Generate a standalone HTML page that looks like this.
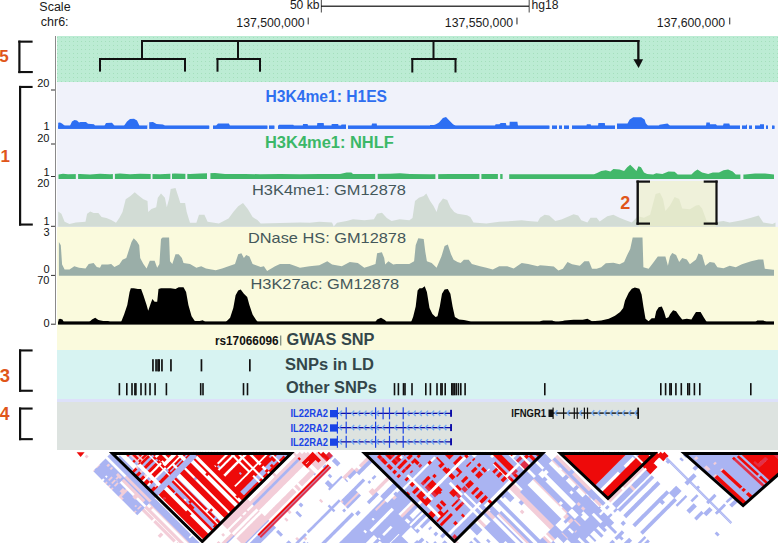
<!DOCTYPE html><html><head><meta charset="utf-8"><style>html,body{margin:0;padding:0;background:#fff;width:778px;height:543px;overflow:hidden}svg{display:block}text{font-family:"Liberation Sans", sans-serif}</style></head><body>
<svg width="778" height="543" viewBox="0 0 778 543">
<defs><pattern id="pg" width="4" height="4" patternUnits="userSpaceOnUse"><rect width="4" height="4" fill="#bcecd4"/><rect x="1" y="1" width="1" height="1" fill="#a4dfbc"/></pattern></defs>
<rect x="57" y="36" width="721" height="46" fill="url(#pg)"/>
<rect x="57" y="82" width="721" height="145" fill="#f0f2fa"/>
<rect x="57" y="227" width="721" height="123" fill="#fafadd"/>
<rect x="57" y="350" width="721" height="49" fill="#d7f3f2"/>
<rect x="57" y="399" width="721" height="3" fill="#dde1fa"/>
<rect x="57" y="402" width="721" height="48" fill="#dde3e0"/>
<rect x="55" y="36" width="1" height="289" fill="#8a8a8a"/>
<rect x="51" y="89.5" width="4" height="1" fill="#333"/>
<rect x="51" y="143.5" width="4" height="1" fill="#333"/>
<rect x="51" y="176.0" width="4" height="1" fill="#333"/>
<rect x="51" y="225.8" width="4" height="1" fill="#333"/>
<rect x="51" y="274.9" width="4" height="1" fill="#333"/>
<rect x="51" y="323.7" width="4" height="1" fill="#333"/>
<path d="M58.2,128.8 L58.2,122.8 L60.0,122.5 L62.0,123.5 L64.8,125.8 L70.0,125.8 L72.0,121.5 L74.5,120.0 L77.0,120.5 L79.0,122.5 L80.5,122.0 L86.0,122.0 L88.0,123.8 L94.0,124.3 L95.0,125.8 L104.5,125.8 L106.0,123.0 L112.0,122.8 L114.5,125.8 L124.0,125.8 L127.0,121.5 L130.0,119.0 L134.0,118.8 L137.0,120.5 L139.5,125.8 L147.0,125.8 L149.0,122.3 L153.0,122.0 L156.5,124.0 L163.0,124.5 L165.0,125.8 L216.0,125.8 L218.0,123.4 L228.9,123.4 L230.0,125.8 L278.7,125.8 L279.0,124.7 L293.2,124.7 L294.0,125.8 L302.8,125.8 L303.0,124.1 L307.6,124.1 L308.0,125.8 L317.0,125.8 L317.3,123.1 L323.7,123.1 L324.0,125.8 L331.5,125.8 L331.7,124.0 L338.2,124.0 L338.5,125.8 L341.0,125.8 L341.5,124.6 L346.0,124.6 L346.5,125.8 L371.5,125.8 L372.0,123.4 L376.7,123.4 L377.0,125.8 L430.0,125.8 L430.0,125.0 L434.0,125.0 L436.0,124.3 L439.0,122.5 L442.9,117.9 L446.0,117.1 L449.3,120.4 L453.0,124.3 L455.7,125.8 L495.0,125.8 L495.6,124.3 L499.4,124.3 L500.7,123.0 L505.8,123.0 L506.5,125.8 L509.5,125.8 L509.7,121.7 L517.4,121.7 L518.0,125.8 L586.5,125.8 L586.8,124.3 L590.7,124.3 L591.0,125.8 L598.0,125.8 L598.4,123.0 L604.8,123.0 L605.2,125.8 L600.0,125.8 L600.0,123.6 L604.6,123.6 L605.0,125.8 L617.0,125.8 L617.0,123.6 L627.5,123.6 L629.7,119.5 L633.2,117.2 L641.2,117.2 L644.6,119.5 L645.8,123.3 L648.0,125.8 L659.0,125.8 L659.5,124.7 L667.5,123.6 L670.0,125.8 L706.0,125.8 L706.4,122.4 L709.8,122.4 L710.0,124.3 L716.0,124.3 L717.0,125.8 L723.0,125.8 L723.6,123.6 L729.3,123.6 L730.0,125.8 L746.0,125.8 L746.5,124.5 L748.7,124.5 L749.0,125.8 L760.0,125.8 L760.0,124.3 L764.8,124.3 L765.0,125.8 L774.4,125.8 L774.4,128.8 Z" fill="#2d6ff3" />
<rect x="58.2" y="125.6" width="89.1" height="3.2" fill="#2d6ff3"/>
<rect x="149.2" y="125.6" width="60.1" height="3.2" fill="#2d6ff3"/>
<rect x="213.0" y="125.6" width="54.5" height="3.2" fill="#2d6ff3"/>
<rect x="269.0" y="125.6" width="5.5" height="3.2" fill="#2d6ff3"/>
<rect x="278.0" y="125.6" width="68.0" height="3.2" fill="#2d6ff3"/>
<rect x="348.0" y="125.6" width="201.5" height="3.2" fill="#2d6ff3"/>
<rect x="552.0" y="125.6" width="5.0" height="3.2" fill="#2d6ff3"/>
<rect x="559.0" y="125.6" width="3.0" height="3.2" fill="#2d6ff3"/>
<rect x="564.0" y="125.6" width="5.0" height="3.2" fill="#2d6ff3"/>
<rect x="572.0" y="125.6" width="43.0" height="3.2" fill="#2d6ff3"/>
<rect x="617.0" y="125.6" width="123.0" height="3.2" fill="#2d6ff3"/>
<rect x="742.0" y="125.6" width="5.0" height="3.2" fill="#2d6ff3"/>
<rect x="749.0" y="125.6" width="3.0" height="3.2" fill="#2d6ff3"/>
<rect x="755.0" y="125.6" width="9.0" height="3.2" fill="#2d6ff3"/>
<rect x="766.0" y="125.6" width="2.0" height="3.2" fill="#2d6ff3"/>
<rect x="772.0" y="125.6" width="2.4" height="3.2" fill="#2d6ff3"/>
<rect x="147.3" y="115" width="1.9" height="14.5" fill="#f0f2fa"/>
<rect x="209.3" y="115" width="3.7" height="14.5" fill="#f0f2fa"/>
<rect x="267.5" y="115" width="1.5" height="14.5" fill="#f0f2fa"/>
<rect x="274.5" y="115" width="3.5" height="14.5" fill="#f0f2fa"/>
<rect x="346.0" y="115" width="2.0" height="14.5" fill="#f0f2fa"/>
<rect x="549.5" y="115" width="2.5" height="14.5" fill="#f0f2fa"/>
<rect x="557.0" y="115" width="2.0" height="14.5" fill="#f0f2fa"/>
<rect x="562.0" y="115" width="2.0" height="14.5" fill="#f0f2fa"/>
<rect x="569.0" y="115" width="3.0" height="14.5" fill="#f0f2fa"/>
<rect x="615.0" y="115" width="2.0" height="14.5" fill="#f0f2fa"/>
<rect x="740.0" y="115" width="2.0" height="14.5" fill="#f0f2fa"/>
<rect x="747.0" y="115" width="2.0" height="14.5" fill="#f0f2fa"/>
<rect x="752.0" y="115" width="3.0" height="14.5" fill="#f0f2fa"/>
<rect x="764.0" y="115" width="2.0" height="14.5" fill="#f0f2fa"/>
<rect x="768.0" y="115" width="4.0" height="14.5" fill="#f0f2fa"/>
<path d="M58.5,178.9 L58.5,174.6 L63.0,173.8 L68.0,174.2 L80.0,174.0 L90.0,174.4 L100.0,173.8 L110.0,174.2 L120.0,173.6 L130.0,174.2 L140.0,173.8 L160.0,174.2 L175.0,173.6 L190.0,174.1 L200.0,173.6 L215.0,173.0 L225.0,174.0 L245.0,174.0 L260.0,174.2 L280.0,174.0 L300.0,174.2 L320.0,174.1 L340.0,174.1 L346.6,172.5 L351.4,172.5 L353.0,174.0 L370.0,174.0 L390.0,173.8 L400.0,173.2 L410.0,174.0 L430.0,174.2 L450.0,174.0 L470.0,174.1 L500.0,174.1 L530.0,174.2 L560.0,174.2 L580.0,174.2 L594.0,174.2 L596.6,173.3 L601.2,170.9 L605.8,170.3 L610.4,171.5 L613.4,169.1 L619.5,169.4 L624.1,170.9 L627.2,167.2 L630.2,164.8 L633.3,167.8 L636.4,170.9 L638.5,166.3 L641.0,167.2 L644.0,172.4 L647.1,174.0 L653.2,174.6 L656.2,173.3 L662.4,174.0 L668.5,171.5 L674.6,171.8 L677.7,174.6 L691.4,174.6 L694.5,171.5 L697.5,169.4 L702.1,172.4 L708.2,174.0 L712.8,172.4 L719.0,172.4 L723.5,170.3 L728.1,169.4 L732.7,171.5 L735.8,174.6 L745.0,174.6 L755.0,173.6 L765.0,173.6 L774.0,174.6 L774.0,178.9 Z" fill="#42b86a" />
<rect x="75.8" y="163" width="2.3" height="16" fill="#f0f2fa"/>
<rect x="112.9" y="163" width="2.0" height="16" fill="#f0f2fa"/>
<rect x="150.7" y="163" width="1.8" height="16" fill="#f0f2fa"/>
<rect x="170.4" y="163" width="1.6" height="16" fill="#f0f2fa"/>
<rect x="185.4" y="163" width="1.9" height="16" fill="#f0f2fa"/>
<rect x="207.0" y="163" width="3.4" height="16" fill="#f0f2fa"/>
<rect x="375.2" y="163" width="2.5" height="16" fill="#f0f2fa"/>
<rect x="435.4" y="163" width="2.8" height="16" fill="#f0f2fa"/>
<rect x="479.4" y="163" width="2.0" height="16" fill="#f0f2fa"/>
<rect x="497.9" y="163" width="2.3" height="16" fill="#f0f2fa"/>
<rect x="502.6" y="163" width="6.6" height="16" fill="#f0f2fa"/>
<rect x="740.4" y="163" width="3.0" height="16" fill="#f0f2fa"/>
<path d="M58.2,226.8 L58.2,211.5 L61.4,213.7 L64.6,221.8 L69.5,224.0 L75.9,222.4 L85.5,221.8 L87.1,213.7 L90.3,211.5 L93.6,213.0 L98.4,213.0 L101.6,217.0 L106.4,218.0 L111.2,220.0 L116.0,222.7 L119.3,218.0 L122.5,212.0 L125.7,199.3 L130.5,196.0 L134.7,192.2 L139.2,196.0 L143.4,199.3 L147.5,200.9 L148.2,212.0 L151.4,209.0 L156.2,207.3 L157.8,197.7 L161.0,193.5 L164.9,197.7 L166.8,207.3 L169.0,199.3 L170.7,189.0 L175.5,188.0 L178.7,197.7 L180.3,203.1 L185.1,203.1 L186.7,212.0 L190.0,222.7 L196.4,222.7 L199.0,214.7 L204.4,214.7 L207.6,221.8 L218.9,223.4 L228.5,218.6 L233.3,212.0 L238.2,206.3 L243.0,203.1 L247.8,209.0 L252.6,217.0 L257.4,220.0 L260.7,223.4 L300.0,222.4 L309.6,222.7 L319.3,221.8 L332.0,222.4 L333.7,226.6 L337.0,222.7 L346.6,221.1 L353.0,219.2 L364.3,220.2 L373.9,219.2 L377.1,213.7 L382.0,212.8 L386.8,217.9 L391.6,221.1 L399.6,219.2 L409.3,220.2 L412.5,217.9 L415.0,200.9 L418.9,197.7 L423.7,196.0 L426.3,193.5 L430.1,200.9 L433.4,205.7 L436.6,212.1 L438.8,204.1 L443.0,198.6 L447.2,199.9 L450.4,207.3 L454.2,212.1 L457.5,213.7 L467.1,215.3 L470.3,217.0 L473.5,222.4 L486.4,223.4 L499.2,221.8 L512.1,221.1 L521.7,220.2 L528.1,221.1 L537.8,221.8 L540.0,217.8 L544.6,214.8 L549.2,215.4 L555.3,220.9 L561.4,219.4 L569.0,216.3 L573.6,214.2 L578.2,215.4 L581.3,220.3 L587.4,222.4 L590.5,217.8 L596.6,217.8 L599.7,221.5 L607.3,216.3 L613.4,214.8 L619.5,217.8 L625.7,220.3 L631.8,222.4 L637.9,216.3 L644.0,217.8 L650.1,214.8 L655.6,194.0 L659.9,192.7 L663.0,198.9 L665.4,211.1 L670.0,205.6 L674.6,197.0 L679.2,198.9 L682.2,208.6 L689.9,209.3 L696.0,205.6 L699.1,205.0 L702.1,208.6 L706.7,220.9 L712.8,222.4 L723.5,220.9 L729.7,222.4 L741.9,220.3 L751.1,217.8 L758.7,215.4 L763.3,222.4 L772.5,224.0 L775.5,222.4 L775.5,226.8 Z" fill="#d2dcd5" />
<rect x="638.5" y="181" width="77.5" height="45.5" fill="#eef0c4" fill-opacity="0.6"/>
<path d="M58.9,275.8 L58.9,242.0 L60.8,245.3 L62.1,264.6 L64.6,269.4 L69.5,269.4 L74.3,266.2 L79.1,267.8 L85.5,268.4 L88.7,263.9 L93.6,263.0 L96.8,267.1 L100.0,267.8 L101.6,264.6 L108.0,264.6 L111.2,263.9 L114.4,267.1 L119.3,264.6 L122.5,259.7 L126.3,258.1 L128.9,250.1 L131.5,242.1 L133.7,238.2 L136.9,241.4 L139.2,245.3 L140.2,258.1 L143.4,263.9 L146.6,268.4 L149.8,260.7 L154.6,260.7 L157.2,267.8 L159.4,263.9 L161.0,238.9 L162.6,237.6 L169.1,237.6 L170.0,261.3 L172.3,263.9 L175.5,254.3 L178.7,254.3 L181.9,258.1 L183.5,263.0 L190.0,263.9 L196.4,267.8 L201.2,266.2 L206.0,268.4 L215.7,270.3 L222.1,268.4 L228.5,266.2 L235.0,263.9 L238.2,254.3 L241.4,253.3 L243.9,258.1 L246.2,254.9 L249.4,256.5 L252.6,263.9 L260.7,267.1 L263.9,266.2 L267.1,271.0 L275.1,266.2 L280.0,263.9 L289.6,263.9 L296.0,266.2 L300.0,267.8 L309.6,266.2 L319.3,265.2 L327.3,261.3 L332.1,264.6 L341.8,266.2 L349.8,262.0 L357.8,263.0 L364.3,267.8 L369.1,266.2 L375.5,263.9 L377.1,253.3 L381.9,252.3 L384.2,258.1 L385.2,264.6 L388.4,261.3 L393.2,264.6 L396.4,263.9 L409.3,263.9 L414.1,261.3 L415.7,245.3 L418.3,238.2 L423.7,238.9 L425.3,251.7 L426.9,261.3 L431.7,263.0 L436.6,267.8 L441.4,256.5 L444.6,245.9 L447.8,244.6 L451.0,254.3 L453.6,259.7 L457.5,262.0 L460.7,263.0 L463.9,259.7 L468.7,259.7 L471.9,263.9 L480.0,266.2 L486.4,267.8 L492.8,269.4 L499.2,266.2 L507.3,266.2 L513.7,268.4 L521.7,263.0 L528.1,263.9 L537.8,266.2 L540.0,265.2 L546.1,265.8 L553.8,266.4 L558.4,270.4 L562.9,268.8 L567.5,262.1 L572.1,264.2 L579.8,265.8 L584.4,261.2 L589.0,261.2 L592.0,268.8 L596.6,268.8 L601.2,267.3 L605.8,263.3 L613.4,262.7 L619.5,264.2 L624.1,262.1 L627.2,255.1 L630.2,248.9 L632.7,237.6 L642.5,237.6 L643.4,267.3 L648.6,268.8 L653.2,262.7 L657.8,256.6 L665.4,256.6 L667.9,265.8 L670.0,256.6 L672.2,252.9 L676.1,255.1 L679.2,262.1 L682.2,258.1 L686.8,259.6 L689.9,264.2 L696.0,259.6 L698.5,253.5 L702.1,255.1 L705.2,265.8 L709.8,262.1 L714.4,262.7 L717.4,267.3 L723.5,268.2 L729.7,265.8 L735.8,267.3 L741.9,264.2 L751.1,261.2 L758.7,259.6 L763.3,259.6 L764.8,268.8 L773.1,269.7 L774.0,269.7 L774.0,275.8 Z" fill="#9aaea8" />
<path d="M58.5,322.0 L58.5,319.5 L60.0,318.8 L62.5,319.5 L64.0,322.6 L88.7,322.6 L92.0,319.4 L95.2,317.8 L98.4,320.0 L103.2,321.0 L108.0,321.0 L111.2,322.6 L120.9,322.6 L124.1,314.6 L127.3,304.9 L129.6,292.1 L130.8,288.2 L133.7,288.2 L137.9,288.9 L141.1,288.9 L143.4,295.3 L146.6,304.9 L148.2,310.7 L150.8,303.3 L152.4,299.1 L154.6,301.7 L157.2,301.7 L158.5,288.9 L161.0,288.2 L170.7,288.2 L175.5,288.9 L178.7,287.2 L183.5,287.2 L186.1,292.1 L188.4,304.9 L191.6,316.2 L194.8,321.0 L199.6,321.0 L202.8,320.3 L206.0,322.6 L225.3,322.6 L230.1,317.8 L233.3,308.1 L235.6,295.3 L238.2,290.5 L240.7,289.5 L243.9,293.7 L247.2,296.9 L249.4,304.9 L252.6,314.6 L255.8,319.4 L258.1,322.6 L375.0,322.6 L377.1,319.4 L381.0,317.8 L385.2,320.3 L386.8,322.6 L410.9,322.6 L413.1,317.1 L415.7,306.5 L417.6,290.5 L419.5,288.2 L422.1,288.2 L424.7,286.3 L426.9,292.1 L429.5,308.1 L432.4,313.9 L435.6,317.1 L437.5,316.2 L439.8,306.5 L442.0,293.7 L444.6,289.5 L447.8,288.9 L450.4,293.7 L452.6,306.5 L454.9,317.1 L459.1,319.4 L463.9,320.0 L468.7,321.0 L471.9,322.6 L539.0,322.6 L541.0,321.0 L543.1,320.4 L552.2,320.4 L556.8,322.5 L564.5,320.4 L573.6,319.7 L582.8,319.7 L587.4,318.8 L592.0,321.3 L601.2,320.4 L608.8,318.8 L615.0,315.8 L620.1,312.1 L623.2,308.1 L625.0,300.5 L628.7,292.8 L631.8,288.8 L634.8,287.6 L639.4,288.8 L641.6,294.4 L643.4,306.6 L645.5,318.8 L648.6,321.3 L651.7,318.2 L654.7,318.2 L656.2,311.2 L658.7,307.2 L661.8,306.6 L663.9,311.2 L666.0,318.2 L668.5,317.3 L670.0,314.2 L673.1,310.3 L676.1,311.2 L679.2,315.8 L682.2,319.4 L686.8,318.8 L691.4,319.4 L694.5,314.2 L696.0,312.1 L700.6,312.1 L703.7,317.3 L706.7,321.9 L755.0,322.6 L757.2,320.4 L763.3,320.4 L766.4,321.9 L774.0,322.6 L774.0,322.0 Z" fill="#000" />
<rect x="58" y="321.4" width="716" height="3.2" fill="#000"/>
<text x="265.5" y="101.9" font-size="16" font-weight="bold" fill="#2f6ff0" textLength="121.5" lengthAdjust="spacingAndGlyphs">H3K4me1: H1ES</text>
<text x="265" y="148.3" font-size="16" font-weight="bold" fill="#3cb868" textLength="128.8" lengthAdjust="spacingAndGlyphs">H3K4me1: NHLF</text>
<text x="252" y="195" font-size="15" fill="#44575a" textLength="154" lengthAdjust="spacingAndGlyphs">H3K4me1: GM12878</text>
<text x="248" y="243" font-size="15" fill="#44575a" textLength="158" lengthAdjust="spacingAndGlyphs">DNase HS: GM12878</text>
<text x="250.4" y="289.4" font-size="15" fill="#44575a" textLength="148.8" lengthAdjust="spacingAndGlyphs">H3K27ac: GM12878</text>
<text x="49.5" y="87.0" font-size="11" fill="#111" text-anchor="end">20</text>
<text x="49.5" y="130.2" font-size="11" fill="#111" text-anchor="end">1</text>
<text x="49.5" y="142.0" font-size="11" fill="#111" text-anchor="end">20</text>
<text x="49.5" y="175.8" font-size="11" fill="#111" text-anchor="end">1</text>
<text x="49.5" y="187.0" font-size="11" fill="#111" text-anchor="end">20</text>
<text x="49.5" y="225.4" font-size="11" fill="#111" text-anchor="end">1</text>
<text x="49.5" y="236.2" font-size="11" fill="#111" text-anchor="end">3</text>
<text x="49.5" y="273.2" font-size="11" fill="#111" text-anchor="end">0</text>
<text x="49.5" y="284.2" font-size="11" fill="#111" text-anchor="end">70</text>
<text x="49.5" y="326.5" font-size="11" fill="#111" text-anchor="end">0</text>
<text x="39.3" y="10.5" font-size="12" fill="#1a1a1a" textLength="31.3" lengthAdjust="spacingAndGlyphs">Scale</text>
<text x="40.8" y="25.5" font-size="12" fill="#1a1a1a" textLength="27.8" lengthAdjust="spacingAndGlyphs">chr6:</text>
<text x="289.9" y="9" font-size="12" fill="#1a1a1a" textLength="29.6" lengthAdjust="spacingAndGlyphs">50 kb</text>
<text x="531.4" y="9" font-size="12" fill="#1a1a1a" textLength="27" lengthAdjust="spacingAndGlyphs">hg18</text>
<text x="236.3" y="26.5" font-size="12" fill="#1a1a1a" textLength="68.3" lengthAdjust="spacingAndGlyphs">137,500,000</text>
<text x="444.8" y="26.5" font-size="12" fill="#1a1a1a" textLength="68.3" lengthAdjust="spacingAndGlyphs">137,550,000</text>
<text x="656.8" y="26.5" font-size="12" fill="#1a1a1a" textLength="68.3" lengthAdjust="spacingAndGlyphs">137,600,000</text>
<rect x="307.6" y="17.6" width="1.3" height="6.8" fill="#555"/>
<rect x="516.3" y="17.6" width="1.3" height="6.8" fill="#555"/>
<rect x="729.0" y="17.6" width="1.3" height="6.8" fill="#555"/>
<rect x="320.8" y="0" width="1.2" height="12.5" fill="#666"/>
<rect x="528.6" y="0" width="1.2" height="12.5" fill="#666"/>
<rect x="321" y="5.6" width="208" height="1.2" fill="#111"/>
<rect x="141.0" y="40.0" width="498.5" height="2.0" fill="#111"/>
<rect x="141.0" y="40.0" width="2.0" height="19.0" fill="#111"/>
<rect x="99.0" y="58.0" width="87.0" height="2.0" fill="#111"/>
<rect x="99.0" y="58.0" width="2.0" height="13.6" fill="#111"/>
<rect x="184.0" y="58.0" width="2.0" height="13.6" fill="#111"/>
<rect x="237.0" y="40.0" width="2.0" height="19.0" fill="#111"/>
<rect x="216.5" y="58.0" width="44.5" height="2.0" fill="#111"/>
<rect x="216.5" y="58.0" width="2.0" height="13.7" fill="#111"/>
<rect x="259.0" y="58.0" width="2.0" height="13.7" fill="#111"/>
<rect x="432.5" y="40.0" width="2.0" height="19.0" fill="#111"/>
<rect x="411.3" y="58.0" width="45.2" height="2.0" fill="#111"/>
<rect x="411.3" y="58.0" width="2.0" height="14.5" fill="#111"/>
<rect x="454.5" y="58.0" width="2.0" height="14.5" fill="#111"/>
<rect x="637.2" y="40.0" width="2.3" height="20.0" fill="#111"/>
<path d="M633.4,59.2 L643.1,59.2 L638.6,68 Z" fill="#111"/>
<rect x="18.3" y="40.6" width="2.2" height="32.5" fill="#111"/>
<rect x="18.3" y="40.6" width="14.3" height="2.1" fill="#111"/>
<rect x="18.3" y="71.0" width="14.5" height="2.1" fill="#111"/>
<rect x="19.0" y="85.9" width="2.2" height="139.7" fill="#111"/>
<rect x="19.0" y="85.9" width="13.6" height="2.1" fill="#111"/>
<rect x="19.0" y="223.5" width="13.8" height="2.1" fill="#111"/>
<rect x="19.0" y="349.4" width="2.2" height="42.4" fill="#111"/>
<rect x="19.0" y="349.4" width="13.6" height="2.1" fill="#111"/>
<rect x="19.0" y="389.7" width="13.8" height="2.1" fill="#111"/>
<rect x="19.0" y="407.5" width="2.2" height="32.7" fill="#111"/>
<rect x="19.0" y="407.5" width="13.6" height="2.1" fill="#111"/>
<rect x="19.0" y="438.1" width="13.8" height="2.1" fill="#111"/>
<text x="-0.8" y="61.5" font-size="17" font-weight="bold" fill="#e0561a">5</text>
<text x="0.5" y="162.4" font-size="17" font-weight="bold" fill="#e0561a">1</text>
<text x="-0.2" y="382.4" font-size="18.5" font-weight="bold" fill="#e0561a">3</text>
<text x="-0.2" y="420.3" font-size="17.5" font-weight="bold" fill="#e0561a">4</text>
<text x="620.2" y="208.8" font-size="18" font-weight="bold" fill="#e0561a">2</text>
<rect x="636.5" y="180.5" width="2.4" height="44.2" fill="#111"/>
<rect x="636.5" y="180.5" width="13.5" height="2.2" fill="#111"/>
<rect x="636.5" y="222.5" width="13.5" height="2.2" fill="#111"/>
<rect x="715.4" y="180.5" width="2.2" height="44.2" fill="#111"/>
<rect x="703.7" y="180.5" width="13.9" height="2.2" fill="#111"/>
<rect x="703.7" y="222.5" width="13.9" height="2.2" fill="#111"/>
<text x="214.9" y="344.5" font-size="12" font-weight="bold" fill="#111" textLength="63.7" lengthAdjust="spacingAndGlyphs">rs17066096</text>
<rect x="280.2" y="335.5" width="1.1" height="10.0" fill="#6a7a70"/>
<text x="286.5" y="345" font-size="16" font-weight="bold" fill="#33464a" textLength="88" lengthAdjust="spacingAndGlyphs">GWAS SNP</text>
<text x="285" y="370" font-size="16" font-weight="bold" fill="#33464a" textLength="89" lengthAdjust="spacingAndGlyphs">SNPs in LD</text>
<text x="285.9" y="392.6" font-size="16" font-weight="bold" fill="#33464a" textLength="91" lengthAdjust="spacingAndGlyphs">Other SNPs</text>
<rect x="152.1" y="359.2" width="1.7" height="12.2" fill="#111"/>
<rect x="155.2" y="359.2" width="1.7" height="12.2" fill="#111"/>
<rect x="157.2" y="359.2" width="1.7" height="12.2" fill="#111"/>
<rect x="158.3" y="359.2" width="1.7" height="12.2" fill="#111"/>
<rect x="161.1" y="359.2" width="1.7" height="12.2" fill="#111"/>
<rect x="170.1" y="359.2" width="1.7" height="12.2" fill="#111"/>
<rect x="200.6" y="359.2" width="1.7" height="12.2" fill="#111"/>
<rect x="249.0" y="359.2" width="1.7" height="12.2" fill="#111"/>
<rect x="118.6" y="383.1" width="1.6" height="12.2" fill="#111"/>
<rect x="126.0" y="383.1" width="1.6" height="12.2" fill="#111"/>
<rect x="131.2" y="383.1" width="1.6" height="12.2" fill="#111"/>
<rect x="134.1" y="383.1" width="1.6" height="12.2" fill="#111"/>
<rect x="135.1" y="383.1" width="1.6" height="12.2" fill="#111"/>
<rect x="140.2" y="383.1" width="1.6" height="12.2" fill="#111"/>
<rect x="144.7" y="383.1" width="1.6" height="12.2" fill="#111"/>
<rect x="149.2" y="383.1" width="1.6" height="12.2" fill="#111"/>
<rect x="154.3" y="383.1" width="1.6" height="12.2" fill="#111"/>
<rect x="165.6" y="383.1" width="1.6" height="12.2" fill="#111"/>
<rect x="199.9" y="383.1" width="1.6" height="12.2" fill="#111"/>
<rect x="202.2" y="383.1" width="1.6" height="12.2" fill="#111"/>
<rect x="242.7" y="383.1" width="1.6" height="12.2" fill="#111"/>
<rect x="246.7" y="383.1" width="1.6" height="12.2" fill="#111"/>
<rect x="393.7" y="383.1" width="1.6" height="12.2" fill="#111"/>
<rect x="397.6" y="383.1" width="1.6" height="12.2" fill="#111"/>
<rect x="402.7" y="383.1" width="1.6" height="12.2" fill="#111"/>
<rect x="404.2" y="383.1" width="1.6" height="12.2" fill="#111"/>
<rect x="411.2" y="383.1" width="1.6" height="12.2" fill="#111"/>
<rect x="425.0" y="383.1" width="1.6" height="12.2" fill="#111"/>
<rect x="429.6" y="383.1" width="1.6" height="12.2" fill="#111"/>
<rect x="436.2" y="383.1" width="1.6" height="12.2" fill="#111"/>
<rect x="440.1" y="383.1" width="1.6" height="12.2" fill="#111"/>
<rect x="441.3" y="383.1" width="1.6" height="12.2" fill="#111"/>
<rect x="444.4" y="383.1" width="1.6" height="12.2" fill="#111"/>
<rect x="451.0" y="383.1" width="1.6" height="12.2" fill="#111"/>
<rect x="452.2" y="383.1" width="1.6" height="12.2" fill="#111"/>
<rect x="453.6" y="383.1" width="1.6" height="12.2" fill="#111"/>
<rect x="455.4" y="383.1" width="1.6" height="12.2" fill="#111"/>
<rect x="457.6" y="383.1" width="1.6" height="12.2" fill="#111"/>
<rect x="460.0" y="383.1" width="1.6" height="12.2" fill="#111"/>
<rect x="464.3" y="383.1" width="1.6" height="12.2" fill="#111"/>
<rect x="544.0" y="383.1" width="1.6" height="12.2" fill="#111"/>
<rect x="660.0" y="383.1" width="1.6" height="12.2" fill="#111"/>
<rect x="664.8" y="383.1" width="1.6" height="12.2" fill="#111"/>
<rect x="669.1" y="383.1" width="1.6" height="12.2" fill="#111"/>
<rect x="670.4" y="383.1" width="1.6" height="12.2" fill="#111"/>
<rect x="675.1" y="383.1" width="1.6" height="12.2" fill="#111"/>
<rect x="680.5" y="383.1" width="1.6" height="12.2" fill="#111"/>
<rect x="687.0" y="383.1" width="1.6" height="12.2" fill="#111"/>
<rect x="688.6" y="383.1" width="1.6" height="12.2" fill="#111"/>
<rect x="693.6" y="383.1" width="1.6" height="12.2" fill="#111"/>
<rect x="699.0" y="383.1" width="1.6" height="12.2" fill="#111"/>
<rect x="750.0" y="383.1" width="1.6" height="12.2" fill="#111"/>
<text x="290.5" y="417.2" font-size="10" font-weight="bold" fill="#1a44e6" textLength="37.5" lengthAdjust="spacingAndGlyphs">IL22RA2</text>
<rect x="337.0" y="412.7" width="114.0" height="1.3" fill="#0c0ca8"/>
<path d="M341.9,410.6l-2.4,2.7l2.4,2.7M354.2,410.6l-2.4,2.7l2.4,2.7M360.3,410.6l-2.4,2.7l2.4,2.7M366.5,410.6l-2.4,2.7l2.4,2.7M372.6,410.6l-2.4,2.7l2.4,2.7M378.8,410.6l-2.4,2.7l2.4,2.7M397.2,410.6l-2.4,2.7l2.4,2.7M409.5,410.6l-2.4,2.7l2.4,2.7M415.7,410.6l-2.4,2.7l2.4,2.7M421.8,410.6l-2.4,2.7l2.4,2.7M428.0,410.6l-2.4,2.7l2.4,2.7M434.1,410.6l-2.4,2.7l2.4,2.7M440.3,410.6l-2.4,2.7l2.4,2.7M446.4,410.6l-2.4,2.7l2.4,2.7" fill="none" stroke="#74aaf2" stroke-width="1.4"/>
<rect x="330.0" y="410.0" width="7.3" height="7.3" fill="#1a44e6"/>
<rect x="336.8" y="407.3" width="1.2" height="12.0" fill="#1a44e6"/>
<rect x="345.6" y="407.3" width="1.2" height="12.0" fill="#1a44e6"/>
<rect x="375.0" y="407.3" width="1.2" height="12.0" fill="#1a44e6"/>
<rect x="388.9" y="407.3" width="1.2" height="12.0" fill="#1a44e6"/>
<rect x="402.6" y="407.3" width="1.2" height="12.0" fill="#1a44e6"/>
<rect x="382.5" y="407.3" width="1.2" height="12.0" fill="#1a44e6"/>
<rect x="450.1" y="409.8" width="1.9" height="7.0" fill="#0c0ca8"/>
<text x="290.5" y="431.5" font-size="10" font-weight="bold" fill="#1a44e6" textLength="37.5" lengthAdjust="spacingAndGlyphs">IL22RA2</text>
<rect x="337.0" y="427.0" width="114.0" height="1.3" fill="#0c0ca8"/>
<path d="M341.9,424.9l-2.4,2.7l2.4,2.7M354.2,424.9l-2.4,2.7l2.4,2.7M360.3,424.9l-2.4,2.7l2.4,2.7M366.5,424.9l-2.4,2.7l2.4,2.7M372.6,424.9l-2.4,2.7l2.4,2.7M378.8,424.9l-2.4,2.7l2.4,2.7M384.9,424.9l-2.4,2.7l2.4,2.7M397.2,424.9l-2.4,2.7l2.4,2.7M409.5,424.9l-2.4,2.7l2.4,2.7M415.7,424.9l-2.4,2.7l2.4,2.7M421.8,424.9l-2.4,2.7l2.4,2.7M428.0,424.9l-2.4,2.7l2.4,2.7M434.1,424.9l-2.4,2.7l2.4,2.7M440.3,424.9l-2.4,2.7l2.4,2.7M446.4,424.9l-2.4,2.7l2.4,2.7" fill="none" stroke="#74aaf2" stroke-width="1.4"/>
<rect x="330.0" y="424.3" width="7.3" height="7.3" fill="#1a44e6"/>
<rect x="336.8" y="421.6" width="1.2" height="12.0" fill="#1a44e6"/>
<rect x="345.6" y="421.6" width="1.2" height="12.0" fill="#1a44e6"/>
<rect x="375.0" y="421.6" width="1.2" height="12.0" fill="#1a44e6"/>
<rect x="388.9" y="421.6" width="1.2" height="12.0" fill="#1a44e6"/>
<rect x="402.6" y="421.6" width="1.2" height="12.0" fill="#1a44e6"/>
<rect x="450.1" y="424.1" width="1.9" height="7.0" fill="#0c0ca8"/>
<text x="290.5" y="445.7" font-size="10" font-weight="bold" fill="#1a44e6" textLength="37.5" lengthAdjust="spacingAndGlyphs">IL22RA2</text>
<rect x="337.0" y="441.2" width="114.0" height="1.3" fill="#0c0ca8"/>
<path d="M341.9,439.1l-2.4,2.7l2.4,2.7M354.2,439.1l-2.4,2.7l2.4,2.7M360.3,439.1l-2.4,2.7l2.4,2.7M366.5,439.1l-2.4,2.7l2.4,2.7M372.6,439.1l-2.4,2.7l2.4,2.7M378.8,439.1l-2.4,2.7l2.4,2.7M384.9,439.1l-2.4,2.7l2.4,2.7M397.2,439.1l-2.4,2.7l2.4,2.7M409.5,439.1l-2.4,2.7l2.4,2.7M415.7,439.1l-2.4,2.7l2.4,2.7M421.8,439.1l-2.4,2.7l2.4,2.7M428.0,439.1l-2.4,2.7l2.4,2.7M434.1,439.1l-2.4,2.7l2.4,2.7M440.3,439.1l-2.4,2.7l2.4,2.7M446.4,439.1l-2.4,2.7l2.4,2.7" fill="none" stroke="#74aaf2" stroke-width="1.4"/>
<rect x="330.0" y="438.5" width="7.3" height="7.3" fill="#1a44e6"/>
<rect x="336.8" y="435.8" width="1.2" height="12.0" fill="#1a44e6"/>
<rect x="345.6" y="435.8" width="1.2" height="12.0" fill="#1a44e6"/>
<rect x="375.0" y="435.8" width="1.2" height="12.0" fill="#1a44e6"/>
<rect x="388.9" y="435.8" width="1.2" height="12.0" fill="#1a44e6"/>
<rect x="402.6" y="435.8" width="1.2" height="12.0" fill="#1a44e6"/>
<rect x="450.1" y="438.3" width="1.9" height="7.0" fill="#0c0ca8"/>
<text x="511.3" y="417.1" font-size="10" font-weight="bold" fill="#111" textLength="34.7" lengthAdjust="spacingAndGlyphs">IFNGR1</text>
<rect x="553.0" y="412.4" width="85.0" height="1.4" fill="#111"/>
<path d="M557.4,410.3l-2.4,2.7l2.4,2.7M569.7,410.3l-2.4,2.7l2.4,2.7M582.0,410.3l-2.4,2.7l2.4,2.7M594.3,410.3l-2.4,2.7l2.4,2.7M600.4,410.3l-2.4,2.7l2.4,2.7M606.6,410.3l-2.4,2.7l2.4,2.7M612.7,410.3l-2.4,2.7l2.4,2.7M618.9,410.3l-2.4,2.7l2.4,2.7M625.0,410.3l-2.4,2.7l2.4,2.7M631.2,410.3l-2.4,2.7l2.4,2.7M637.3,410.3l-2.4,2.7l2.4,2.7" fill="none" stroke="#74aaf2" stroke-width="1.4"/>
<rect x="548.5" y="409.5" width="4.5" height="7.5" fill="#111"/>
<rect x="552.5" y="407.6" width="1.2" height="11.3" fill="#111"/>
<rect x="563.0" y="407.6" width="1.2" height="11.3" fill="#111"/>
<rect x="573.7" y="407.6" width="1.2" height="11.3" fill="#111"/>
<rect x="576.6" y="407.6" width="1.2" height="11.3" fill="#111"/>
<rect x="583.8" y="407.6" width="1.2" height="11.3" fill="#111"/>
<rect x="586.9" y="407.6" width="1.2" height="11.3" fill="#111"/>
<rect x="637.3" y="407.6" width="1.7" height="11.3" fill="#111"/>
<g transform="matrix(0.5,-0.5,0.5,0.5,0,452)"><path fill="#f3cdd8" d="M74.0 112.0h3.5v1.7h-3.5zM74.0 135.4h3.5v3.5h-3.5zM74.0 141.6h3.5v3.5h-3.5zM74.0 147.1h3.5v3.4h-3.5zM74.0 162.4h3.5v8.4h-3.5zM74.0 193.4h3.5v3.2h-3.5zM74.0 241.4h3.5v4.8h-3.5zM77.0 162.4h3.5v4.6h-3.5zM77.0 241.4h3.5v4.8h-3.5zM80.0 112.0h3.5v1.7h-3.5zM80.0 135.4h3.5v3.5h-3.5zM80.0 141.6h3.5v3.5h-3.5zM80.0 147.1h3.5v3.4h-3.5zM80.0 158.4h3.5v8.5h-3.5zM80.0 188.2h3.5v3.2h-3.5zM80.0 193.4h3.5v3.2h-3.5zM83.0 112.0h4.5v1.7h-4.5zM83.0 135.4h4.5v3.5h-4.5zM83.0 141.6h4.5v3.5h-4.5zM83.0 147.1h4.5v3.4h-4.5zM83.0 158.4h4.5v8.5h-4.5zM83.0 193.4h4.5v3.2h-4.5zM83.0 200.0h4.5v20.6h-4.5zM83.0 223.6h4.5v40.6h-4.5zM83.0 267.6h4.5v6.2h-4.5zM87.0 144.6h2.0v3.0h-2.0zM87.0 150.0h2.0v1.6h-2.0zM87.0 162.4h2.0v4.6h-2.0zM87.0 176.8h2.0v6.4h-2.0zM88.5 141.6h4.5v3.5h-4.5zM88.5 176.8h4.5v6.4h-4.5zM88.5 200.0h4.5v80.0h-4.5zM92.6 119.5h4.9v4.1h-4.9zM92.6 126.0h4.9v3.6h-4.9zM92.6 138.4h4.9v9.2h-4.9zM92.6 150.0h4.9v43.9h-4.9zM92.6 205.5h4.9v3.6h-4.9zM97.0 200.0h2.0v87.7h-2.0zM98.5 150.0h4.9v50.5h-4.9zM112.0 291.0h1.7v3.1h-1.7zM113.2 291.0h3.2v3.1h-3.2zM115.8 291.0h4.1v3.1h-4.1zM119.5 151.1h4.1v3.8h-4.1zM119.5 158.4h4.1v4.5h-4.1zM119.5 166.4h4.1v4.3h-4.1zM119.5 176.8h4.1v3.2h-4.1zM119.5 188.2h4.1v3.2h-4.1zM119.5 193.4h4.1v3.2h-4.1zM119.5 291.0h4.1v3.1h-4.1zM123.1 291.0h3.4v3.1h-3.4zM126.0 129.1h3.6v21.4h-3.6zM126.0 291.0h3.6v3.1h-3.6zM126.0 307.5h3.6v10.0h-3.6zM129.1 132.3h3.8v3.6h-3.8zM129.1 144.6h3.8v3.0h-3.8zM129.1 291.0h3.8v3.1h-3.8zM129.1 312.4h3.8v5.1h-3.8zM132.3 135.4h3.6v15.1h-3.6zM132.3 291.0h3.6v3.1h-3.6zM132.3 312.4h3.6v5.1h-3.6zM135.4 144.6h3.5v3.0h-3.5zM135.4 291.0h3.5v3.1h-3.5zM135.4 312.4h3.5v5.1h-3.5zM138.4 144.6h3.8v3.0h-3.8zM138.4 291.0h3.8v3.1h-3.8zM138.4 304.1h3.8v3.9h-3.8zM138.4 312.4h3.8v5.1h-3.8zM141.6 144.6h3.5v3.0h-3.5zM141.6 291.0h3.5v3.1h-3.5zM141.6 312.4h3.5v5.1h-3.5zM144.6 147.1h3.0v3.4h-3.0zM144.6 291.0h3.0v3.1h-3.0zM144.6 312.4h3.0v5.1h-3.0zM147.1 291.0h3.4v3.1h-3.4zM147.1 312.4h3.4v5.1h-3.4zM150.0 293.6h1.6v11.0h-1.6zM150.0 307.5h1.6v5.4h-1.6zM150.0 317.0h1.6v2.0h-1.6zM150.0 322.9h1.6v13.6h-1.6zM151.1 293.6h3.8v11.0h-3.8zM151.1 307.5h3.8v5.4h-3.8zM151.1 317.0h3.8v2.0h-3.8zM151.1 322.9h3.8v13.6h-3.8zM154.3 293.6h4.6v11.0h-4.6zM154.3 307.5h4.6v5.4h-4.6zM154.3 317.0h4.6v2.0h-4.6zM154.3 322.9h4.6v13.6h-4.6zM158.4 293.6h4.5v11.0h-4.5zM158.4 307.5h4.5v5.4h-4.5zM158.4 317.0h4.5v2.0h-4.5zM158.4 322.9h4.5v13.6h-4.5zM162.4 293.6h4.6v11.0h-4.6zM162.4 307.5h4.6v5.4h-4.6zM162.4 317.0h4.6v2.0h-4.6zM162.4 322.9h4.6v13.6h-4.6zM166.4 293.6h4.3v11.0h-4.3zM166.4 307.5h4.3v5.4h-4.3zM166.4 317.0h4.3v2.0h-4.3zM166.4 322.9h4.3v13.6h-4.3zM170.2 293.6h4.1v11.0h-4.1zM170.2 307.5h4.1v5.4h-4.1zM170.2 317.0h4.1v2.0h-4.1zM170.2 322.9h4.1v13.6h-4.1zM173.8 293.6h3.5v11.0h-3.5zM173.8 307.5h3.5v5.4h-3.5zM173.8 317.0h3.5v2.0h-3.5zM173.8 322.9h3.5v13.6h-3.5zM176.8 293.6h3.2v19.3h-3.2zM176.8 317.0h3.2v2.0h-3.2zM176.8 322.9h3.2v13.6h-3.2zM179.5 293.6h3.8v11.0h-3.8zM179.5 307.5h3.8v5.4h-3.8zM179.5 317.0h3.8v2.0h-3.8zM179.5 322.9h3.8v13.6h-3.8zM182.8 293.6h3.5v11.0h-3.5zM182.8 307.5h3.5v5.4h-3.5zM182.8 317.0h3.5v2.0h-3.5zM182.8 322.9h3.5v13.6h-3.5zM185.8 293.6h3.0v19.3h-3.0zM185.8 317.0h3.0v2.0h-3.0zM185.8 322.9h3.0v13.6h-3.0zM188.2 293.6h3.2v11.0h-3.2zM188.2 307.5h3.2v5.4h-3.2zM188.2 317.0h3.2v2.0h-3.2zM188.2 322.9h3.2v13.6h-3.2zM188.2 376.9h3.2v5.5h-3.2zM190.9 293.6h3.0v11.0h-3.0zM190.9 307.5h3.0v5.4h-3.0zM190.9 317.0h3.0v2.0h-3.0zM190.9 322.9h3.0v13.6h-3.0zM193.4 293.6h3.2v11.0h-3.2zM193.4 307.5h3.2v5.4h-3.2zM193.4 317.0h3.2v2.0h-3.2zM193.4 322.9h3.2v13.6h-3.2zM196.1 293.6h4.4v11.0h-4.4zM196.1 307.5h4.4v5.4h-4.4zM196.1 317.0h4.4v2.0h-4.4zM196.1 322.9h4.4v13.6h-4.4zM200.0 291.0h2.4v3.1h-2.4zM200.0 299.5h2.4v5.1h-2.4zM200.0 307.5h2.4v10.0h-2.4zM200.0 328.8h2.4v7.7h-2.4zM201.9 291.0h4.1v3.1h-4.1zM201.9 299.5h4.1v5.1h-4.1zM201.9 307.5h4.1v10.0h-4.1zM201.9 328.8h4.1v7.7h-4.1zM205.5 291.0h3.6v3.1h-3.6zM205.5 299.5h3.6v5.1h-3.6zM205.5 307.5h3.6v10.0h-3.6zM205.5 328.8h3.6v7.7h-3.6zM208.6 291.0h3.5v3.1h-3.5zM208.6 299.5h3.5v5.1h-3.5zM208.6 307.5h3.5v10.0h-3.5zM208.6 328.8h3.5v7.7h-3.5zM208.6 340.7h3.5v5.3h-3.5zM208.6 381.9h3.5v4.8h-3.5zM211.6 291.0h3.3v3.1h-3.3zM211.6 299.5h3.3v5.1h-3.3zM211.6 307.5h3.3v10.0h-3.3zM211.6 328.8h3.3v7.7h-3.3zM214.4 291.0h3.2v3.1h-3.2zM214.4 299.5h3.2v5.1h-3.2zM214.4 307.5h3.2v10.0h-3.2zM214.4 328.8h3.2v7.7h-3.2zM217.1 291.0h3.4v3.1h-3.4zM217.1 299.5h3.4v5.1h-3.4zM217.1 307.5h3.4v10.0h-3.4zM217.1 328.8h3.4v7.7h-3.4zM217.1 351.3h3.4v5.2h-3.4zM217.1 389.4h3.4v4.6h-3.4zM220.1 291.0h4.0v3.1h-4.0zM220.1 299.5h4.0v5.1h-4.0zM220.1 307.5h4.0v10.0h-4.0zM220.1 328.8h4.0v7.7h-4.0zM223.6 291.0h4.3v3.1h-4.3zM223.6 299.5h4.3v5.1h-4.3zM223.6 307.5h4.3v10.0h-4.3zM223.6 328.8h4.3v7.7h-4.3zM227.4 291.0h4.0v3.1h-4.0zM227.4 299.5h4.0v5.1h-4.0zM227.4 307.5h4.0v10.0h-4.0zM227.4 328.8h4.0v7.7h-4.0zM227.4 345.5h4.0v6.2h-4.0zM230.9 291.0h4.2v3.1h-4.2zM230.9 299.5h4.2v5.1h-4.2zM230.9 307.5h4.2v10.0h-4.2zM230.9 328.8h4.2v7.7h-4.2zM234.7 291.0h3.9v3.1h-3.9zM234.7 299.5h3.9v5.1h-3.9zM234.7 307.5h3.9v10.0h-3.9zM234.7 328.8h3.9v7.7h-3.9zM238.1 291.0h3.9v3.1h-3.9zM238.1 299.5h3.9v5.1h-3.9zM238.1 307.5h3.9v10.0h-3.9zM238.1 328.8h3.9v7.7h-3.9zM241.4 291.0h4.8v3.1h-4.8zM241.4 299.5h4.8v5.1h-4.8zM241.4 307.5h4.8v10.0h-4.8zM241.4 328.8h4.8v7.7h-4.8zM245.7 291.0h4.6v3.1h-4.6zM245.7 299.5h4.6v5.1h-4.6zM245.7 307.5h4.6v10.0h-4.6zM245.7 328.8h4.6v7.7h-4.6zM249.8 291.0h3.8v13.6h-3.8zM249.8 307.5h3.8v10.0h-3.8zM249.8 328.8h3.8v7.7h-3.8zM253.1 291.0h3.4v3.1h-3.4zM253.1 299.5h3.4v5.1h-3.4zM253.1 307.5h3.4v10.0h-3.4zM253.1 328.8h3.4v7.7h-3.4zM255.9 291.0h4.2v3.1h-4.2zM255.9 299.5h4.2v5.1h-4.2zM255.9 307.5h4.2v10.0h-4.2zM259.6 291.0h4.5v3.1h-4.5zM259.6 299.5h4.5v5.1h-4.5zM259.6 307.5h4.5v10.0h-4.5zM259.6 328.8h4.5v9.1h-4.5zM263.6 291.0h4.5v3.1h-4.5zM263.6 299.5h4.5v5.1h-4.5zM263.6 307.5h4.5v10.0h-4.5zM267.6 291.0h3.5v3.1h-3.5zM267.6 299.5h3.5v5.1h-3.5zM267.6 307.5h3.5v10.0h-3.5zM267.6 328.8h3.5v7.7h-3.5zM270.6 291.0h3.2v3.1h-3.2zM270.6 299.5h3.2v5.1h-3.2zM270.6 307.5h3.2v10.0h-3.2zM270.6 328.8h3.2v7.7h-3.2zM270.6 367.5h3.2v5.1h-3.2zM273.4 291.0h3.4v3.1h-3.4zM273.4 299.5h3.4v5.1h-3.4zM273.4 307.5h3.4v10.0h-3.4zM273.4 328.8h3.4v7.7h-3.4zM276.2 291.0h3.8v3.1h-3.8zM276.2 299.5h3.8v5.1h-3.8zM276.2 307.5h3.8v10.0h-3.8zM276.2 328.8h3.8v7.7h-3.8zM279.5 291.0h4.6v3.1h-4.6zM279.5 299.5h4.6v5.1h-4.6zM279.5 307.5h4.6v10.0h-4.6zM279.5 328.8h4.6v7.7h-4.6zM283.6 291.0h4.1v3.1h-4.1zM283.6 299.5h4.1v5.1h-4.1zM283.6 307.5h4.1v10.0h-4.1zM283.6 328.8h4.1v7.7h-4.1zM287.2 291.0h4.3v3.1h-4.3zM287.2 299.5h4.3v5.1h-4.3zM287.2 307.5h4.3v10.0h-4.3zM287.2 328.8h4.3v7.7h-4.3zM291.0 293.6h3.1v11.0h-3.1zM291.0 307.5h3.1v5.4h-3.1zM291.0 322.9h3.1v13.6h-3.1zM291.0 389.4h3.1v4.6h-3.1zM291.0 397.6h3.1v3.6h-3.1zM293.6 299.5h6.4v13.4h-6.4zM293.6 397.6h6.4v3.6h-6.4zM299.5 304.1h5.1v8.8h-5.1zM299.5 322.9h5.1v13.6h-5.1zM299.5 397.6h5.1v3.6h-5.1zM304.1 307.5h3.9v5.4h-3.9zM304.1 322.9h3.9v13.6h-3.9zM304.1 397.6h3.9v3.6h-3.9zM307.5 328.8h5.4v7.7h-5.4zM307.5 397.6h5.4v3.6h-5.4zM312.4 317.0h5.1v19.5h-5.1zM312.4 397.6h5.1v3.6h-5.1zM317.0 367.5h2.0v5.1h-2.0zM317.0 432.0h2.0v3.8h-2.0zM318.5 367.5h4.9v5.1h-4.9zM318.5 432.0h4.9v3.8h-4.9zM322.9 367.5h6.3v5.1h-6.3zM322.9 432.0h6.3v3.8h-6.3zM328.8 367.5h7.7v5.1h-7.7zM328.8 408.3h7.7v8.8h-7.7zM328.8 432.0h7.7v3.8h-7.7zM336.0 372.1h1.9v5.2h-1.9zM336.0 412.2h1.9v4.8h-1.9zM336.0 463.9h1.9v4.6h-1.9zM337.4 372.1h3.8v5.2h-3.8zM337.4 412.2h3.8v4.8h-3.8zM337.4 463.9h3.8v4.6h-3.8zM340.7 412.2h5.3v4.8h-5.3zM340.7 463.9h5.3v4.6h-5.3zM345.5 372.1h6.2v5.2h-6.2zM345.5 412.2h6.2v4.8h-6.2zM345.5 438.2h6.2v4.2h-6.2zM345.5 463.9h6.2v4.6h-6.2zM351.3 372.1h5.2v5.2h-5.2zM351.3 412.2h5.2v4.8h-5.2zM351.3 463.9h5.2v4.6h-5.2zM356.0 372.1h9.5v5.2h-9.5zM356.0 412.2h9.5v4.8h-9.5zM356.0 463.9h9.5v4.6h-9.5zM365.0 545.0h3.0v9.7h-3.0zM408.3 543.0h4.5v17.5h-4.5zM424.4 543.0h6.1v17.5h-6.1zM435.3 560.0h3.4v68.5h-3.4zM456.2 628.0h4.4v14.5h-4.4zM460.1 579.5h4.3v5.0h-4.3zM463.9 628.0h4.6v14.5h-4.6zM472.6 543.0h7.9v85.5h-7.9zM480.0 543.0h2.3v17.5h-2.3zM480.0 642.0h2.3v12.5h-2.3zM481.8 672.0h4.1v3.5h-4.1zM494.0 654.0h4.8v2.5h-4.8zM498.2 628.0h7.3v5.5h-7.3zM498.2 636.9h7.3v5.6h-7.3zM505.0 560.0h2.8v54.7h-2.8zM505.0 618.0h2.8v10.5h-2.8zM505.0 642.0h2.8v12.5h-2.8zM524.2 628.0h4.8v5.5h-4.8zM524.2 636.9h4.8v5.6h-4.8zM543.0 560.0h2.5v15.0h-2.5zM543.0 579.5h2.5v49.0h-2.5zM543.0 633.0h2.5v4.3h-2.5zM545.0 642.0h4.7v12.5h-4.7zM549.2 560.0h5.5v29.0h-5.5zM549.2 594.0h5.5v34.5h-5.5zM560.0 656.0h3.5v4.9h-3.5zM563.0 656.0h6.4v4.9h-6.4zM568.9 656.0h6.1v4.9h-6.1zM574.5 656.0h5.6v4.9h-5.6zM579.5 656.0h5.0v4.9h-5.0zM588.5 656.0h6.0v4.9h-6.0zM594.0 656.0h4.9v4.9h-4.9zM594.0 664.2h4.9v8.3h-4.9zM598.4 656.0h5.1v4.9h-5.1zM603.0 656.0h6.8v4.9h-6.8zM609.3 656.0h5.4v4.9h-5.4zM614.2 656.0h4.2v4.9h-4.2zM618.0 656.0h5.0v4.9h-5.0zM622.5 656.0h6.0v4.9h-6.0z"/><path fill="#aab4f2" d="M74.0 113.2h3.5v16.4h-3.5zM74.0 132.3h3.5v3.6h-3.5zM74.0 138.4h3.5v3.8h-3.5zM74.0 144.6h3.5v3.0h-3.5zM74.0 150.0h3.5v12.9h-3.5zM74.0 170.2h3.5v23.7h-3.5zM74.0 196.1h3.5v4.4h-3.5zM77.0 112.0h3.5v50.9h-3.5zM77.0 166.4h3.5v34.1h-3.5zM80.0 113.2h3.5v16.4h-3.5zM80.0 132.3h3.5v3.6h-3.5zM80.0 138.4h3.5v3.8h-3.5zM80.0 144.6h3.5v3.0h-3.5zM80.0 150.0h3.5v8.9h-3.5zM80.0 166.4h3.5v22.3h-3.5zM80.0 190.9h3.5v3.0h-3.5zM80.0 196.1h3.5v4.4h-3.5zM83.0 113.2h4.5v22.7h-4.5zM83.0 138.4h4.5v3.8h-4.5zM83.0 144.6h4.5v3.0h-4.5zM83.0 150.0h4.5v8.9h-4.5zM83.0 166.4h4.5v27.5h-4.5zM83.0 196.1h4.5v4.4h-4.5zM87.0 112.0h2.0v33.1h-2.0zM87.0 147.1h2.0v3.4h-2.0zM87.0 151.1h2.0v11.8h-2.0zM87.0 166.4h2.0v10.9h-2.0zM87.0 182.8h2.0v17.8h-2.0zM88.5 112.0h4.5v30.1h-4.5zM88.5 144.6h4.5v5.9h-4.5zM92.6 112.0h4.9v8.0h-4.9zM92.6 123.1h4.9v3.4h-4.9zM92.6 129.1h4.9v9.8h-4.9zM92.6 147.1h4.9v3.4h-4.9zM92.6 193.4h4.9v7.1h-4.9zM97.0 112.0h2.0v88.5h-2.0zM98.5 200.0h4.9v91.5h-4.9zM102.8 112.0h5.8v161.9h-5.8zM102.8 276.2h5.8v17.9h-5.8zM108.2 112.0h4.3v88.5h-4.3zM112.0 154.3h1.7v4.6h-1.7zM112.0 162.4h1.7v4.6h-1.7zM112.0 182.8h1.7v6.0h-1.7zM112.0 193.4h1.7v3.2h-1.7zM113.2 123.1h3.2v27.4h-3.2zM113.2 154.3h3.2v4.6h-3.2zM113.2 162.4h3.2v4.6h-3.2zM113.2 182.8h3.2v6.0h-3.2zM115.8 154.3h4.1v4.6h-4.1zM115.8 162.4h4.1v4.6h-4.1zM115.8 182.8h4.1v6.0h-4.1zM119.5 154.3h4.1v4.6h-4.1zM119.5 162.4h4.1v4.6h-4.1zM119.5 173.8h4.1v3.5h-4.1zM119.5 182.8h4.1v6.0h-4.1zM123.1 126.0h3.4v3.6h-3.4zM123.1 132.3h3.4v9.8h-3.4zM123.1 144.6h3.4v5.9h-3.4zM126.0 317.0h3.6v2.0h-3.6zM129.1 154.3h3.8v4.6h-3.8zM129.1 162.4h3.8v4.6h-3.8zM129.1 182.8h3.8v6.0h-3.8zM129.1 317.0h3.8v2.0h-3.8zM132.3 154.3h3.6v4.6h-3.6zM132.3 162.4h3.6v4.6h-3.6zM132.3 182.8h3.6v6.0h-3.6zM132.3 214.4h3.6v3.2h-3.6zM132.3 317.0h3.6v2.0h-3.6zM135.4 154.3h3.5v4.6h-3.5zM135.4 162.4h3.5v4.6h-3.5zM135.4 182.8h3.5v6.0h-3.5zM135.4 200.0h3.5v31.4h-3.5zM135.4 234.7h3.5v7.2h-3.5zM135.4 249.8h3.5v41.7h-3.5zM135.4 317.0h3.5v2.0h-3.5zM138.4 154.3h3.8v4.6h-3.8zM138.4 162.4h3.8v4.6h-3.8zM138.4 182.8h3.8v6.0h-3.8zM138.4 200.0h3.8v38.6h-3.8zM138.4 241.4h3.8v46.3h-3.8zM138.4 317.0h3.8v2.0h-3.8zM141.6 154.3h3.5v4.6h-3.5zM141.6 162.4h3.5v4.6h-3.5zM141.6 182.8h3.5v6.0h-3.5zM141.6 317.0h3.5v2.0h-3.5zM144.6 317.0h3.0v2.0h-3.0zM147.1 154.3h3.4v4.6h-3.4zM147.1 162.4h3.4v4.6h-3.4zM147.1 182.8h3.4v6.0h-3.4zM147.1 279.5h3.4v4.6h-3.4zM147.1 317.0h3.4v2.0h-3.4zM150.0 188.2h1.6v3.2h-1.6zM150.0 200.0h1.6v91.5h-1.6zM150.0 336.0h1.6v1.9h-1.6zM151.1 188.2h3.8v3.2h-3.8zM151.1 336.0h3.8v1.9h-3.8zM154.3 188.2h4.6v3.2h-4.6zM154.3 336.0h4.6v1.9h-4.6zM154.3 340.7h4.6v5.3h-4.6zM158.4 336.0h4.5v1.9h-4.5zM158.4 340.7h4.5v11.1h-4.5zM162.4 188.2h4.6v3.2h-4.6zM162.4 336.0h4.6v1.9h-4.6zM162.4 340.7h4.6v11.1h-4.6zM166.4 188.2h4.3v3.2h-4.3zM166.4 220.1h4.3v4.0h-4.3zM166.4 336.0h4.3v1.9h-4.3zM166.4 340.7h4.3v11.1h-4.3zM170.2 188.2h4.1v3.2h-4.1zM170.2 336.0h4.1v1.9h-4.1zM170.2 340.7h4.1v11.1h-4.1zM173.8 336.0h3.5v1.9h-3.5zM173.8 340.7h3.5v11.1h-3.5zM176.8 336.0h3.2v1.9h-3.2zM176.8 340.7h3.2v11.1h-3.2zM179.5 188.2h3.8v3.2h-3.8zM179.5 336.0h3.8v1.9h-3.8zM179.5 340.7h3.8v11.1h-3.8zM182.8 336.0h3.5v1.9h-3.5zM182.8 340.7h3.5v11.1h-3.5zM185.8 188.2h3.0v3.2h-3.0zM185.8 336.0h3.0v1.9h-3.0zM185.8 340.7h3.0v11.1h-3.0zM188.2 190.9h3.2v9.6h-3.2zM188.2 336.0h3.2v1.9h-3.2zM188.2 340.7h3.2v11.1h-3.2zM190.9 336.0h3.0v1.9h-3.0zM190.9 340.7h3.0v11.1h-3.0zM190.9 376.9h3.0v5.5h-3.0zM193.4 336.0h3.2v1.9h-3.2zM193.4 345.5h3.2v6.2h-3.2zM193.4 376.9h3.2v5.5h-3.2zM196.1 336.0h4.4v1.9h-4.4zM196.1 340.7h4.4v11.1h-4.4zM196.1 356.0h4.4v9.5h-4.4zM196.1 376.9h4.4v5.5h-4.4zM200.0 279.5h2.4v8.2h-2.4zM200.0 304.1h2.4v3.9h-2.4zM200.0 386.1h2.4v3.8h-2.4zM201.9 230.9h4.1v4.2h-4.1zM201.9 279.5h4.1v8.2h-4.1zM201.9 304.1h4.1v3.9h-4.1zM201.9 386.1h4.1v3.8h-4.1zM205.5 279.5h3.6v8.2h-3.6zM205.5 304.1h3.6v3.9h-3.6zM205.5 386.1h3.6v3.8h-3.6zM208.6 279.5h3.5v8.2h-3.5zM208.6 304.1h3.5v3.9h-3.5zM208.6 386.1h3.5v3.8h-3.5zM211.6 279.5h3.3v8.2h-3.3zM211.6 304.1h3.3v3.9h-3.3zM211.6 386.1h3.3v3.8h-3.3zM211.6 393.5h3.3v4.6h-3.3zM214.4 279.5h3.2v8.2h-3.2zM214.4 304.1h3.2v3.9h-3.2zM214.4 386.1h3.2v3.8h-3.2zM214.4 397.6h3.2v3.6h-3.2zM217.1 259.6h3.4v4.5h-3.4zM217.1 279.5h3.4v8.2h-3.4zM217.1 304.1h3.4v3.9h-3.4zM217.1 386.1h3.4v3.8h-3.4zM220.1 279.5h4.0v8.2h-4.0zM220.1 304.1h4.0v3.9h-4.0zM220.1 386.1h4.0v3.8h-4.0zM223.6 279.5h4.3v8.2h-4.3zM223.6 304.1h4.3v3.9h-4.3zM223.6 412.2h4.3v4.8h-4.3zM227.4 304.1h4.0v3.9h-4.0zM227.4 386.1h4.0v3.8h-4.0zM227.4 412.2h4.0v4.8h-4.0zM230.9 279.5h4.2v8.2h-4.2zM230.9 304.1h4.2v3.9h-4.2zM230.9 386.1h4.2v3.8h-4.2zM230.9 412.2h4.2v4.8h-4.2zM234.7 304.1h3.9v3.9h-3.9zM234.7 356.0h3.9v9.5h-3.9zM234.7 386.1h3.9v3.8h-3.9zM234.7 412.2h3.9v4.8h-3.9zM238.1 279.5h3.9v8.2h-3.9zM238.1 304.1h3.9v3.9h-3.9zM238.1 386.1h3.9v3.8h-3.9zM238.1 412.2h3.9v4.8h-3.9zM241.4 279.5h4.8v8.2h-4.8zM241.4 304.1h4.8v3.9h-4.8zM241.4 386.1h4.8v3.8h-4.8zM241.4 412.2h4.8v4.8h-4.8zM241.4 430.0h4.8v2.5h-4.8zM245.7 304.1h4.6v3.9h-4.6zM245.7 351.3h4.6v5.2h-4.6zM245.7 386.1h4.6v3.8h-4.6zM245.7 412.2h4.6v4.8h-4.6zM245.7 430.0h4.6v8.7h-4.6zM249.8 279.5h3.8v8.2h-3.8zM249.8 304.1h3.8v3.9h-3.8zM249.8 386.1h3.8v3.8h-3.8zM249.8 412.2h3.8v4.8h-3.8zM249.8 430.0h3.8v12.5h-3.8zM253.1 279.5h3.4v8.2h-3.4zM253.1 304.1h3.4v3.9h-3.4zM253.1 386.1h3.4v3.8h-3.4zM253.1 412.2h3.4v4.8h-3.4zM253.1 430.0h3.4v17.4h-3.4zM255.9 279.5h4.2v4.6h-4.2zM255.9 304.1h4.2v3.9h-4.2zM255.9 386.1h4.2v3.8h-4.2zM255.9 412.2h4.2v4.8h-4.2zM255.9 430.0h4.2v17.4h-4.2zM259.6 279.5h4.5v8.2h-4.5zM259.6 304.1h4.5v3.9h-4.5zM259.6 386.1h4.5v3.8h-4.5zM259.6 412.2h4.5v4.8h-4.5zM259.6 430.0h4.5v22.4h-4.5zM263.6 273.4h4.5v3.4h-4.5zM263.6 283.6h4.5v4.1h-4.5zM263.6 304.1h4.5v3.9h-4.5zM263.6 386.1h4.5v3.8h-4.5zM263.6 412.2h4.5v4.8h-4.5zM263.6 430.0h4.5v26.8h-4.5zM267.6 304.1h3.5v3.9h-3.5zM267.6 386.1h3.5v3.8h-3.5zM267.6 412.2h3.5v4.8h-3.5zM267.6 430.0h3.5v26.8h-3.5zM270.6 279.5h3.2v8.2h-3.2zM270.6 304.1h3.2v3.9h-3.2zM270.6 386.1h3.2v3.8h-3.2zM270.6 412.2h3.2v4.8h-3.2zM270.6 430.0h3.2v26.8h-3.2zM273.4 279.5h3.4v8.2h-3.4zM273.4 304.1h3.4v3.9h-3.4zM273.4 381.9h3.4v12.1h-3.4zM273.4 412.2h3.4v4.8h-3.4zM273.4 430.0h3.4v26.8h-3.4zM276.2 279.5h3.8v8.2h-3.8zM276.2 304.1h3.8v3.9h-3.8zM276.2 386.1h3.8v3.8h-3.8zM276.2 412.2h3.8v4.8h-3.8zM276.2 430.0h3.8v26.8h-3.8zM276.2 463.9h3.8v4.6h-3.8zM279.5 283.6h4.6v7.9h-4.6zM279.5 304.1h4.6v3.9h-4.6zM279.5 386.1h4.6v3.8h-4.6zM279.5 412.2h4.6v4.8h-4.6zM279.5 430.0h4.6v26.8h-4.6zM279.5 463.9h4.6v4.6h-4.6zM283.6 287.2h4.1v4.3h-4.1zM283.6 304.1h4.1v3.9h-4.1zM283.6 386.1h4.1v3.8h-4.1zM283.6 400.8h4.1v3.8h-4.1zM283.6 412.2h4.1v4.8h-4.1zM283.6 430.0h4.1v12.5h-4.1zM283.6 446.9h4.1v9.9h-4.1zM283.6 463.9h4.1v4.6h-4.1zM287.2 304.1h4.3v3.9h-4.3zM287.2 386.1h4.3v3.8h-4.3zM287.2 412.2h4.3v4.8h-4.3zM287.2 430.0h4.3v26.8h-4.3zM287.2 463.9h4.3v4.6h-4.3zM291.0 336.0h3.1v1.9h-3.1zM291.0 365.0h3.1v3.0h-3.1zM291.0 393.5h3.1v4.6h-3.1zM291.0 400.8h3.1v3.8h-3.1zM291.0 430.0h3.1v17.4h-3.1zM291.0 451.9h3.1v12.5h-3.1zM291.0 468.0h3.1v12.5h-3.1zM293.6 356.0h6.4v12.0h-6.4zM293.6 389.4h6.4v8.7h-6.4zM293.6 400.8h6.4v3.8h-6.4zM293.6 416.6h6.4v4.9h-6.4zM293.6 430.0h6.4v17.4h-6.4zM293.6 451.9h6.4v28.6h-6.4zM293.6 481.8h6.4v4.1h-6.4zM299.5 365.0h5.1v3.0h-5.1zM299.5 389.4h5.1v8.7h-5.1zM299.5 400.8h5.1v3.8h-5.1zM299.5 430.0h5.1v17.4h-5.1zM299.5 451.9h5.1v12.5h-5.1zM299.5 468.0h5.1v12.5h-5.1zM299.5 481.8h5.1v12.7h-5.1zM304.1 351.3h3.9v5.2h-3.9zM304.1 365.0h3.9v3.0h-3.9zM304.1 389.4h3.9v8.7h-3.9zM304.1 400.8h3.9v3.8h-3.9zM304.1 430.0h3.9v8.7h-3.9zM304.1 442.0h3.9v5.4h-3.9zM304.1 451.9h3.9v12.5h-3.9zM304.1 468.0h3.9v12.5h-3.9zM304.1 481.8h3.9v16.9h-3.9zM307.5 337.4h5.4v3.8h-5.4zM307.5 365.0h5.4v3.0h-5.4zM307.5 389.4h5.4v8.7h-5.4zM307.5 400.8h5.4v3.8h-5.4zM307.5 430.0h5.4v17.4h-5.4zM307.5 451.9h5.4v12.5h-5.4zM307.5 468.0h5.4v12.5h-5.4zM307.5 481.8h5.4v16.9h-5.4zM312.4 365.0h5.1v3.0h-5.1zM312.4 389.4h5.1v8.7h-5.1zM312.4 400.8h5.1v3.8h-5.1zM312.4 430.0h5.1v17.4h-5.1zM312.4 451.9h5.1v12.5h-5.1zM312.4 468.0h5.1v12.5h-5.1zM312.4 481.8h5.1v23.7h-5.1zM317.0 372.1h2.0v5.2h-2.0zM317.0 389.4h2.0v4.6h-2.0zM317.0 416.6h2.0v4.9h-2.0zM317.0 430.0h2.0v2.5h-2.0zM317.0 435.3h2.0v12.1h-2.0zM317.0 451.9h2.0v34.0h-2.0zM318.5 389.4h4.9v4.6h-4.9zM318.5 416.6h4.9v4.9h-4.9zM318.5 430.0h4.9v2.5h-4.9zM318.5 435.3h4.9v12.1h-4.9zM318.5 451.9h4.9v34.0h-4.9zM318.5 505.0h4.9v7.3h-4.9zM322.9 336.0h6.3v1.9h-6.3zM322.9 340.7h6.3v11.1h-6.3zM322.9 372.1h6.3v5.2h-6.3zM322.9 389.4h6.3v4.6h-6.3zM322.9 416.6h6.3v4.9h-6.3zM322.9 430.0h6.3v2.5h-6.3zM322.9 435.3h6.3v12.1h-6.3zM322.9 451.9h6.3v34.0h-6.3zM322.9 505.0h6.3v7.3h-6.3zM328.8 372.1h7.7v5.2h-7.7zM328.8 389.4h7.7v4.6h-7.7zM328.8 416.6h7.7v4.9h-7.7zM328.8 430.0h7.7v2.5h-7.7zM328.8 435.3h7.7v12.1h-7.7zM328.8 451.9h7.7v34.0h-7.7zM328.8 507.3h7.7v5.0h-7.7zM336.0 376.9h1.9v5.5h-1.9zM336.0 424.4h1.9v8.1h-1.9zM336.0 438.2h1.9v22.4h-1.9zM336.0 468.0h1.9v5.1h-1.9zM336.0 480.0h1.9v2.3h-1.9zM336.0 485.4h1.9v13.4h-1.9zM336.0 515.5h1.9v4.6h-1.9zM337.4 376.9h3.8v5.5h-3.8zM337.4 397.6h3.8v3.6h-3.8zM337.4 424.4h3.8v8.1h-3.8zM337.4 438.2h3.8v22.4h-3.8zM337.4 468.0h3.8v5.1h-3.8zM337.4 480.0h3.8v2.3h-3.8zM337.4 485.4h3.8v5.0h-3.8zM337.4 494.0h3.8v4.8h-3.8zM340.7 376.9h5.3v5.5h-5.3zM340.7 424.4h5.3v8.1h-5.3zM340.7 438.2h5.3v22.4h-5.3zM340.7 468.0h5.3v14.3h-5.3zM340.7 485.4h5.3v5.0h-5.3zM340.7 524.2h5.3v4.8h-5.3zM345.5 376.9h6.2v5.5h-6.2zM345.5 397.6h6.2v3.6h-6.2zM345.5 424.4h6.2v8.1h-6.2zM345.5 442.0h6.2v18.6h-6.2zM345.5 468.0h6.2v5.1h-6.2zM345.5 480.0h6.2v2.3h-6.2zM345.5 485.4h6.2v5.0h-6.2zM345.5 494.0h6.2v4.8h-6.2zM345.5 533.0h6.2v10.5h-6.2zM351.3 376.9h5.2v5.5h-5.2zM351.3 424.4h5.2v8.1h-5.2zM351.3 435.3h5.2v25.3h-5.2zM351.3 468.0h5.2v5.1h-5.2zM351.3 480.0h5.2v2.3h-5.2zM351.3 485.4h5.2v5.0h-5.2zM351.3 494.0h5.2v4.8h-5.2zM351.3 505.0h5.2v2.8h-5.2zM351.3 515.5h5.2v4.6h-5.2zM351.3 533.0h5.2v10.5h-5.2zM356.0 376.9h9.5v5.5h-9.5zM356.0 424.4h9.5v8.1h-9.5zM356.0 438.2h9.5v22.4h-9.5zM356.0 468.0h9.5v5.1h-9.5zM356.0 480.0h9.5v2.3h-9.5zM356.0 485.4h9.5v5.0h-9.5zM356.0 494.0h9.5v4.8h-9.5zM356.0 524.2h9.5v4.8h-9.5zM365.0 367.5h3.0v71.2h-3.0zM365.0 442.0h3.0v5.4h-3.0zM365.0 451.9h3.0v16.6h-3.0zM365.0 472.6h3.0v17.8h-3.0zM365.0 498.2h3.0v30.8h-3.0zM365.0 533.0h3.0v12.5h-3.0zM367.5 372.1h5.1v66.6h-5.1zM367.5 442.0h5.1v26.5h-5.1zM367.5 472.6h5.1v17.8h-5.1zM367.5 498.2h5.1v7.3h-5.1zM367.5 507.3h5.1v5.0h-5.1zM367.5 515.5h5.1v13.4h-5.1zM367.5 533.0h5.1v4.2h-5.1zM372.1 376.9h5.2v5.5h-5.2zM372.1 397.6h5.2v3.6h-5.2zM372.1 408.3h5.2v4.5h-5.2zM372.1 416.6h5.2v4.9h-5.2zM372.1 424.4h5.2v14.4h-5.2zM372.1 442.0h5.2v10.4h-5.2zM372.1 456.2h5.2v4.4h-5.2zM372.1 507.3h5.2v5.0h-5.2zM372.1 515.5h5.2v13.4h-5.2zM372.1 533.0h5.2v10.5h-5.2zM376.9 381.9h5.5v50.6h-5.5zM376.9 435.3h5.5v3.4h-5.5zM376.9 446.9h5.5v5.5h-5.5zM376.9 456.2h5.5v4.4h-5.5zM376.9 468.0h5.5v5.1h-5.5zM376.9 480.0h5.5v18.7h-5.5zM376.9 507.3h5.5v5.0h-5.5zM376.9 515.5h5.5v13.4h-5.5zM376.9 533.0h5.5v10.5h-5.5zM376.9 560.0h5.5v9.4h-5.5zM381.9 397.6h4.8v3.6h-4.8zM381.9 408.3h4.8v4.5h-4.8zM381.9 416.6h4.8v4.9h-4.8zM381.9 424.4h4.8v6.1h-4.8zM381.9 480.0h4.8v10.4h-4.8zM381.9 498.2h4.8v7.3h-4.8zM381.9 507.3h4.8v5.0h-4.8zM381.9 515.5h4.8v9.1h-4.8zM381.9 533.0h4.8v10.5h-4.8zM386.1 397.6h3.8v3.6h-3.8zM386.1 408.3h3.8v4.5h-3.8zM386.1 416.6h3.8v4.9h-3.8zM386.1 424.4h3.8v14.4h-3.8zM386.1 442.0h3.8v26.5h-3.8zM386.1 472.6h3.8v32.9h-3.8zM386.1 507.3h3.8v5.0h-3.8zM386.1 515.5h3.8v13.4h-3.8zM386.1 533.0h3.8v10.5h-3.8zM386.1 560.0h3.8v20.0h-3.8zM389.4 397.6h4.6v3.6h-4.6zM389.4 408.3h4.6v4.5h-4.6zM389.4 416.6h4.6v4.9h-4.6zM389.4 424.4h4.6v6.1h-4.6zM389.4 432.0h4.6v6.7h-4.6zM389.4 442.0h4.6v10.4h-4.6zM389.4 456.2h4.6v4.4h-4.6zM389.4 480.0h4.6v10.4h-4.6zM389.4 498.2h4.6v30.8h-4.6zM389.4 533.0h4.6v10.5h-4.6zM393.5 397.6h4.6v3.6h-4.6zM393.5 408.3h4.6v4.5h-4.6zM393.5 416.6h4.6v4.9h-4.6zM393.5 424.4h4.6v14.4h-4.6zM393.5 442.0h4.6v10.4h-4.6zM393.5 456.2h4.6v4.4h-4.6zM393.5 480.0h4.6v49.0h-4.6zM393.5 533.0h4.6v27.5h-4.6zM397.6 400.8h3.6v38.0h-3.6zM397.6 442.0h3.6v10.4h-3.6zM397.6 456.2h3.6v4.4h-3.6zM397.6 481.8h3.6v23.7h-3.6zM397.6 507.3h3.6v5.0h-3.6zM397.6 515.5h3.6v9.1h-3.6zM397.6 533.0h3.6v27.5h-3.6zM397.6 574.5h3.6v5.6h-3.6zM400.8 408.3h3.8v4.5h-3.8zM400.8 416.6h3.8v4.9h-3.8zM400.8 424.4h3.8v14.4h-3.8zM400.8 442.0h3.8v10.4h-3.8zM400.8 456.2h3.8v4.4h-3.8zM400.8 480.0h3.8v25.5h-3.8zM400.8 507.3h3.8v5.0h-3.8zM400.8 515.5h3.8v13.4h-3.8zM400.8 533.0h3.8v27.5h-3.8zM404.0 408.3h4.8v4.5h-4.8zM404.0 416.6h4.8v4.9h-4.8zM404.0 430.0h4.8v2.5h-4.8zM404.0 435.3h4.8v3.4h-4.8zM404.0 442.0h4.8v26.5h-4.8zM404.0 472.6h4.8v32.9h-4.8zM404.0 507.3h4.8v5.0h-4.8zM404.0 515.5h4.8v13.4h-4.8zM404.0 533.0h4.8v10.5h-4.8zM408.3 412.2h4.5v26.5h-4.5zM408.3 442.0h4.5v14.8h-4.5zM408.3 460.1h4.5v8.4h-4.5zM408.3 472.6h4.5v17.8h-4.5zM408.3 498.2h4.5v7.3h-4.5zM408.3 507.3h4.5v5.0h-4.5zM408.3 515.5h4.5v13.4h-4.5zM408.3 533.0h4.5v10.5h-4.5zM408.3 560.0h4.5v43.5h-4.5zM412.2 416.6h4.8v4.9h-4.8zM412.2 424.4h4.8v14.4h-4.8zM412.2 442.0h4.8v26.5h-4.8zM412.2 472.6h4.8v17.8h-4.8zM412.2 560.0h4.8v34.5h-4.8zM412.2 598.4h4.8v5.1h-4.8zM416.6 420.9h4.9v17.8h-4.9zM416.6 442.0h4.9v26.5h-4.9zM416.6 472.6h4.9v7.9h-4.9zM416.6 505.0h4.9v24.0h-4.9zM416.6 533.0h4.9v10.5h-4.9zM416.6 560.0h4.9v49.8h-4.9zM420.9 424.4h3.9v14.4h-3.9zM420.9 442.0h3.9v26.5h-3.9zM420.9 472.6h3.9v17.8h-3.9zM420.9 498.2h3.9v7.3h-3.9zM420.9 543.0h3.9v66.8h-3.9zM424.4 430.0h6.1v8.7h-6.1zM424.4 442.0h6.1v10.4h-6.1zM424.4 456.2h6.1v4.4h-6.1zM424.4 480.0h6.1v18.7h-6.1zM424.4 505.0h6.1v24.0h-6.1zM424.4 533.0h6.1v10.5h-6.1zM430.0 432.0h2.5v10.5h-2.5zM430.0 456.2h2.5v8.1h-2.5zM430.0 472.6h2.5v39.7h-2.5zM430.0 515.5h2.5v4.6h-2.5zM430.0 524.2h2.5v4.8h-2.5zM430.0 533.0h2.5v4.2h-2.5zM430.0 543.0h2.5v2.5h-2.5zM430.0 549.2h2.5v73.8h-2.5zM432.0 435.3h3.8v33.2h-3.8zM432.0 472.6h3.8v7.9h-3.8zM432.0 481.8h3.8v8.6h-3.8zM432.0 494.0h3.8v4.8h-3.8zM432.0 505.0h3.8v7.3h-3.8zM432.0 515.5h3.8v4.6h-3.8zM432.0 524.2h3.8v4.8h-3.8zM432.0 533.0h3.8v4.2h-3.8zM432.0 543.0h3.8v17.5h-3.8zM435.3 438.2h3.4v30.2h-3.4zM435.3 472.6h3.4v7.9h-3.4zM435.3 481.8h3.4v8.6h-3.4zM435.3 494.0h3.4v4.8h-3.4zM435.3 505.0h3.4v7.3h-3.4zM435.3 515.5h3.4v4.6h-3.4zM435.3 524.2h3.4v4.8h-3.4zM435.3 533.0h3.4v4.2h-3.4zM435.3 543.0h3.4v17.5h-3.4zM438.2 442.0h4.2v26.5h-4.2zM438.2 481.8h4.2v8.6h-4.2zM438.2 494.0h4.2v4.8h-4.2zM438.2 505.0h4.2v7.3h-4.2zM438.2 515.5h4.2v4.6h-4.2zM438.2 524.2h4.2v4.8h-4.2zM438.2 533.0h4.2v4.2h-4.2zM438.2 560.0h4.2v68.5h-4.2zM442.0 456.2h5.4v8.1h-5.4zM442.0 472.6h5.4v64.7h-5.4zM442.0 543.0h5.4v2.5h-5.4zM442.0 628.0h5.4v5.5h-5.4zM446.9 456.2h5.5v8.1h-5.5zM446.9 472.6h5.5v64.7h-5.5zM446.9 543.0h5.5v99.5h-5.5zM451.9 456.2h4.9v8.1h-4.9zM451.9 472.6h4.9v7.9h-4.9zM451.9 481.8h4.9v8.6h-4.9zM451.9 494.0h4.9v4.8h-4.9zM451.9 505.0h4.9v32.3h-4.9zM451.9 628.0h4.9v14.5h-4.9zM456.2 460.1h4.4v8.4h-4.4zM456.2 472.6h4.4v7.9h-4.4zM456.2 481.8h4.4v8.6h-4.4zM456.2 494.0h4.4v4.8h-4.4zM456.2 505.0h4.4v32.3h-4.4zM456.2 545.0h4.4v4.7h-4.4zM456.2 642.0h4.4v12.5h-4.4zM460.1 463.9h4.3v4.6h-4.3zM460.1 472.6h4.3v64.7h-4.3zM460.1 543.0h4.3v17.5h-4.3zM460.1 642.0h4.3v12.5h-4.3zM463.9 472.6h4.6v7.9h-4.6zM463.9 481.8h4.6v8.6h-4.6zM463.9 494.0h4.6v4.8h-4.6zM463.9 505.0h4.6v32.3h-4.6zM463.9 543.0h4.6v17.5h-4.6zM468.0 480.0h5.1v25.5h-5.1zM468.0 507.3h5.1v30.0h-5.1zM468.0 568.9h5.1v6.1h-5.1zM468.0 628.0h5.1v14.5h-5.1zM468.0 654.0h5.1v7.0h-5.1zM472.6 480.0h7.9v32.3h-7.9zM472.6 515.5h7.9v4.6h-7.9zM472.6 524.2h7.9v4.8h-7.9zM472.6 533.0h7.9v4.2h-7.9zM472.6 628.0h7.9v26.5h-7.9zM480.0 481.8h2.3v23.7h-2.3zM480.0 560.0h2.3v82.5h-2.3zM480.0 654.0h2.3v18.5h-2.3zM481.8 485.4h4.1v20.1h-4.1zM481.8 560.0h4.1v68.5h-4.1zM481.8 642.0h4.1v30.5h-4.1zM485.4 489.9h5.0v4.6h-5.0zM485.4 498.2h5.0v30.8h-5.0zM485.4 533.0h5.0v95.5h-5.0zM485.4 642.0h5.0v30.5h-5.0zM489.9 543.0h4.6v85.5h-4.6zM489.9 642.0h4.6v3.5h-4.6zM489.9 654.0h4.6v10.7h-4.6zM494.0 536.8h4.8v23.7h-4.8zM494.0 633.0h4.8v4.3h-4.8zM494.0 642.0h4.8v12.5h-4.8zM494.0 656.0h4.8v31.1h-4.8zM498.2 505.0h7.3v24.0h-7.3zM498.2 533.0h7.3v27.5h-7.3zM498.2 633.0h7.3v4.3h-7.3zM498.2 642.0h7.3v30.5h-7.3zM505.0 543.0h2.8v17.5h-2.8zM505.0 628.0h2.8v14.5h-2.8zM505.0 654.0h2.8v30.9h-2.8zM507.3 519.6h5.0v5.1h-5.0zM507.3 528.5h5.0v5.1h-5.0zM507.3 560.0h5.0v49.8h-5.0zM507.3 614.2h5.0v14.3h-5.0zM507.3 642.0h5.0v30.5h-5.0zM511.8 519.6h4.2v5.1h-4.2zM511.8 528.5h4.2v5.1h-4.2zM511.8 543.0h4.2v85.5h-4.2zM511.8 642.0h4.2v30.5h-4.2zM515.5 543.0h4.6v17.5h-4.6zM515.5 568.9h4.6v6.1h-4.6zM515.5 628.0h4.6v17.5h-4.6zM515.5 654.0h4.6v33.1h-4.6zM515.5 700.2h4.6v5.0h-4.6zM519.6 524.2h5.1v4.8h-5.1zM519.6 533.0h5.1v27.5h-5.1zM519.6 628.0h5.1v14.5h-5.1zM519.6 654.0h5.1v18.5h-5.1zM519.6 700.2h5.1v5.0h-5.1zM524.2 528.5h4.8v5.1h-4.8zM524.2 560.0h4.8v3.5h-4.8zM524.2 568.9h4.8v59.6h-4.8zM524.2 633.0h4.8v4.3h-4.8zM524.2 642.0h4.8v42.9h-4.8zM528.5 533.0h5.1v76.8h-5.1zM528.5 614.2h5.1v40.3h-5.1zM528.5 672.0h5.1v8.1h-5.1zM528.5 700.2h5.1v5.0h-5.1zM528.5 714.8h5.1v6.0h-5.1zM533.0 543.0h4.2v154.1h-4.2zM533.0 700.2h4.2v10.0h-4.2zM533.0 714.8h4.2v6.0h-4.2zM536.8 543.0h6.7v17.5h-6.7zM536.8 588.5h6.7v6.0h-6.7zM536.8 609.3h6.7v5.4h-6.7zM536.8 628.0h6.7v33.0h-6.7zM536.8 664.2h6.7v20.7h-6.7zM536.8 700.2h6.7v5.0h-6.7zM536.8 714.8h6.7v6.0h-6.7zM543.0 654.0h2.5v2.5h-2.5zM543.0 672.0h2.5v3.5h-2.5zM543.0 728.7h2.5v3.4h-2.5zM545.0 560.0h4.7v82.5h-4.7zM545.0 672.0h4.7v3.5h-4.7zM545.0 728.7h4.7v3.4h-4.7zM545.0 735.0h4.7v4.3h-4.7zM549.2 588.5h5.5v6.0h-5.5zM549.2 628.0h5.5v28.5h-5.5zM549.2 660.5h5.5v4.2h-5.5zM549.2 691.9h5.5v5.2h-5.5zM549.2 728.7h5.5v3.4h-5.5zM549.2 735.0h5.5v4.3h-5.5zM554.2 672.0h6.3v3.5h-6.3zM554.2 728.7h6.3v3.4h-6.3zM554.2 735.0h6.3v4.3h-6.3zM560.0 628.0h3.5v9.4h-3.5zM560.0 664.2h3.5v8.3h-3.5zM560.0 675.0h3.5v5.1h-3.5zM560.0 686.6h3.5v5.8h-3.5zM560.0 704.8h3.5v5.5h-3.5zM560.0 720.2h3.5v5.3h-3.5zM563.0 628.0h6.4v9.4h-6.4zM563.0 664.2h6.4v8.3h-6.4zM563.0 675.0h6.4v5.1h-6.4zM563.0 686.6h6.4v5.8h-6.4zM563.0 704.8h6.4v5.5h-6.4zM563.0 720.2h6.4v5.3h-6.4zM568.9 628.0h6.1v9.4h-6.1zM568.9 664.2h6.1v8.3h-6.1zM568.9 675.0h6.1v5.1h-6.1zM568.9 686.6h6.1v5.8h-6.1zM568.9 704.8h6.1v5.5h-6.1zM568.9 720.2h6.1v5.3h-6.1zM574.5 628.0h5.6v9.4h-5.6zM574.5 664.2h5.6v8.3h-5.6zM574.5 675.0h5.6v5.1h-5.6zM574.5 686.6h5.6v5.8h-5.6zM574.5 704.8h5.6v5.5h-5.6zM574.5 720.2h5.6v5.3h-5.6zM579.5 628.0h5.0v9.4h-5.0zM579.5 664.2h5.0v8.3h-5.0zM579.5 675.0h5.0v5.1h-5.0zM579.5 686.6h5.0v5.8h-5.0zM579.5 704.8h5.0v5.5h-5.0zM579.5 720.2h5.0v5.3h-5.0zM584.0 628.0h5.0v9.4h-5.0zM584.0 664.2h5.0v8.3h-5.0zM584.0 675.0h5.0v5.1h-5.0zM584.0 686.6h5.0v5.8h-5.0zM584.0 704.8h5.0v5.5h-5.0zM584.0 720.2h5.0v5.3h-5.0zM588.5 628.0h6.0v9.4h-6.0zM588.5 664.2h6.0v8.3h-6.0zM588.5 675.0h6.0v5.1h-6.0zM588.5 686.6h6.0v5.8h-6.0zM588.5 704.8h6.0v5.5h-6.0zM588.5 720.2h6.0v5.3h-6.0zM594.0 628.0h4.9v9.4h-4.9zM594.0 675.0h4.9v5.1h-4.9zM594.0 686.6h4.9v5.8h-4.9zM594.0 704.8h4.9v5.5h-4.9zM594.0 720.2h4.9v5.3h-4.9zM598.4 628.0h5.1v14.5h-5.1zM598.4 664.2h5.1v8.3h-5.1zM598.4 675.0h5.1v5.1h-5.1zM598.4 686.6h5.1v5.8h-5.1zM598.4 704.8h5.1v5.5h-5.1zM598.4 720.2h5.1v5.3h-5.1zM603.0 628.0h6.8v14.5h-6.8zM603.0 664.2h6.8v8.3h-6.8zM603.0 675.0h6.8v5.1h-6.8zM603.0 686.6h6.8v5.8h-6.8zM603.0 704.8h6.8v5.5h-6.8zM603.0 720.2h6.8v5.3h-6.8zM609.3 628.0h5.4v9.4h-5.4zM609.3 664.2h5.4v8.3h-5.4zM609.3 675.0h5.4v5.1h-5.4zM609.3 686.6h5.4v5.8h-5.4zM609.3 704.8h5.4v10.5h-5.4zM609.3 720.2h5.4v5.3h-5.4zM614.2 628.0h4.2v9.4h-4.2zM614.2 664.2h4.2v8.3h-4.2zM614.2 675.0h4.2v5.1h-4.2zM614.2 686.6h4.2v5.8h-4.2zM614.2 704.8h4.2v5.5h-4.2zM614.2 720.2h4.2v5.3h-4.2zM618.0 628.0h5.0v9.4h-5.0zM618.0 664.2h5.0v8.3h-5.0zM618.0 675.0h5.0v5.1h-5.0zM618.0 686.6h5.0v5.8h-5.0zM618.0 704.8h5.0v5.5h-5.0zM618.0 720.2h5.0v5.3h-5.0zM622.5 628.0h6.0v9.4h-6.0zM622.5 664.2h6.0v8.3h-6.0zM622.5 675.0h6.0v5.1h-6.0zM622.5 686.6h6.0v5.8h-6.0zM622.5 704.8h6.0v5.5h-6.0zM622.5 720.2h6.0v5.3h-6.0zM622.5 728.7h6.0v3.4h-6.0zM628.0 633.0h2.2v9.5h-2.2zM628.0 709.8h2.2v10.9h-2.2zM628.0 728.7h2.2v3.4h-2.2zM628.0 744.9h2.2v6.4h-2.2zM628.0 760.2h2.2v4.8h-2.2zM629.7 709.8h3.8v10.9h-3.8zM629.7 728.7h3.8v3.4h-3.8zM629.7 744.9h3.8v6.4h-3.8zM629.7 760.2h3.8v4.8h-3.8zM633.0 636.9h4.3v5.6h-4.3zM633.0 709.8h4.3v10.9h-4.3zM633.0 728.7h4.3v3.4h-4.3zM633.0 744.9h4.3v6.4h-4.3zM633.0 760.2h4.3v4.8h-4.3zM633.0 796.2h4.3v6.0h-4.3zM636.9 709.8h5.6v10.9h-5.6zM636.9 728.7h5.6v3.4h-5.6zM636.9 744.9h5.6v6.4h-5.6zM636.9 760.2h5.6v4.8h-5.6zM642.0 738.8h3.5v3.8h-3.5zM642.0 764.5h3.5v6.2h-3.5zM645.0 738.8h9.5v3.8h-9.5zM645.0 764.5h9.5v6.2h-9.5zM654.0 714.8h2.5v6.0h-2.5zM654.0 775.6h2.5v4.1h-2.5zM656.0 675.0h4.9v5.1h-4.9zM656.0 714.8h4.9v6.0h-4.9zM656.0 756.1h4.9v4.6h-4.9zM656.0 775.6h4.9v4.1h-4.9zM660.5 714.8h4.2v6.0h-4.2zM660.5 731.5h4.2v3.9h-4.2zM660.5 756.1h4.2v4.6h-4.2zM660.5 775.6h4.2v4.1h-4.2zM664.2 714.8h8.3v6.0h-8.3zM664.2 756.1h8.3v4.6h-8.3zM664.2 775.6h8.3v4.1h-8.3z"/><path fill="#e0304a" d="M115.8 208.6h4.1v3.5h-4.1zM317.0 328.8h2.0v7.7h-2.0zM322.9 328.8h6.3v7.7h-6.3zM367.5 536.8h5.1v6.7h-5.1zM372.1 386.1h5.2v3.8h-5.2zM381.9 386.1h4.8v3.8h-4.8zM386.1 389.4h3.8v8.7h-3.8zM386.1 400.8h3.8v8.0h-3.8zM386.1 420.9h3.8v3.9h-3.8zM389.4 430.0h4.6v2.5h-4.6zM389.4 451.9h4.6v4.9h-4.6zM389.4 460.1h4.6v8.4h-4.6zM389.4 472.6h4.6v7.9h-4.6zM404.0 432.0h4.8v3.8h-4.8zM408.3 505.0h4.5v2.8h-4.5zM408.3 511.8h4.5v4.2h-4.5zM412.2 498.2h4.8v7.3h-4.8zM424.4 498.2h6.1v7.3h-6.1zM481.8 533.0h4.1v4.2h-4.1zM489.9 533.0h4.6v4.2h-4.6zM494.0 533.0h4.8v4.2h-4.8zM507.3 524.2h5.0v4.8h-5.0zM507.3 533.0h5.0v10.5h-5.0zM511.8 524.2h4.2v4.8h-4.2zM511.8 533.0h4.2v10.5h-4.2z"/><path fill="#ee0a0a" d="M112.0 151.1h1.7v3.8h-1.7zM112.0 158.4h1.7v4.5h-1.7zM112.0 166.4h1.7v4.3h-1.7zM112.0 173.8h1.7v6.2h-1.7zM112.0 188.2h1.7v5.7h-1.7zM113.2 151.1h3.2v3.8h-3.2zM113.2 158.4h3.2v4.5h-3.2zM113.2 166.4h3.2v4.3h-3.2zM113.2 173.8h3.2v6.2h-3.2zM113.2 188.2h3.2v8.3h-3.2zM115.8 151.1h4.1v3.8h-4.1zM115.8 158.4h4.1v4.5h-4.1zM115.8 166.4h4.1v4.3h-4.1zM115.8 173.8h4.1v6.2h-4.1zM115.8 188.2h4.1v8.3h-4.1zM115.8 200.0h4.1v9.1h-4.1zM115.8 211.6h4.1v79.9h-4.1zM119.5 179.5h4.1v3.8h-4.1zM119.5 190.9h4.1v3.0h-4.1zM119.5 200.0h4.1v91.5h-4.1zM123.1 129.1h3.4v3.8h-3.4zM123.1 141.6h3.4v3.5h-3.4zM123.1 200.0h3.4v91.5h-3.4zM126.0 150.0h3.6v1.6h-3.6zM126.0 245.7h3.6v7.9h-3.6zM129.1 135.4h3.8v9.8h-3.8zM129.1 147.1h3.8v3.4h-3.8zM129.1 151.1h3.8v3.8h-3.8zM129.1 158.4h3.8v4.5h-3.8zM129.1 166.4h3.8v4.3h-3.8zM129.1 173.8h3.8v6.2h-3.8zM129.1 188.2h3.8v12.2h-3.8zM132.3 151.1h3.6v3.8h-3.6zM132.3 158.4h3.6v4.5h-3.6zM132.3 166.4h3.6v4.3h-3.6zM132.3 173.8h3.6v6.2h-3.6zM132.3 188.2h3.6v8.3h-3.6zM132.3 200.0h3.6v14.9h-3.6zM132.3 217.1h3.6v74.4h-3.6zM135.4 138.4h3.5v6.8h-3.5zM135.4 147.1h3.5v3.4h-3.5zM135.4 151.1h3.5v3.8h-3.5zM135.4 158.4h3.5v4.5h-3.5zM135.4 166.4h3.5v4.3h-3.5zM135.4 173.8h3.5v6.2h-3.5zM135.4 188.2h3.5v8.3h-3.5zM135.4 241.4h3.5v8.9h-3.5zM138.4 141.6h3.8v3.5h-3.8zM138.4 147.1h3.8v3.4h-3.8zM138.4 151.1h3.8v3.8h-3.8zM138.4 158.4h3.8v4.5h-3.8zM138.4 166.4h3.8v4.3h-3.8zM138.4 173.8h3.8v6.2h-3.8zM138.4 188.2h3.8v8.3h-3.8zM138.4 238.1h3.8v3.9h-3.8zM138.4 287.2h3.8v4.3h-3.8zM141.6 147.1h3.5v3.4h-3.5zM141.6 151.1h3.5v3.8h-3.5zM141.6 158.4h3.5v4.5h-3.5zM141.6 166.4h3.5v4.3h-3.5zM141.6 173.8h3.5v6.2h-3.5zM141.6 188.2h3.5v8.3h-3.5zM141.6 200.0h3.5v91.5h-3.5zM147.1 151.1h3.4v3.8h-3.4zM147.1 158.4h3.4v4.5h-3.4zM147.1 166.4h3.4v4.3h-3.4zM147.1 173.8h3.4v6.2h-3.4zM147.1 188.2h3.4v8.3h-3.4zM147.1 200.0h3.4v64.1h-3.4zM147.1 267.6h3.4v12.4h-3.4zM147.1 283.6h3.4v7.9h-3.4zM150.0 151.1h1.6v7.8h-1.6zM150.0 162.4h1.6v4.6h-1.6zM150.0 170.2h1.6v4.1h-1.6zM150.0 179.5h1.6v3.8h-1.6zM150.0 185.8h1.6v3.0h-1.6zM150.0 190.9h1.6v9.6h-1.6zM151.1 154.3h3.8v4.6h-3.8zM151.1 162.4h3.8v8.4h-3.8zM151.1 179.5h3.8v3.8h-3.8zM151.1 185.8h3.8v3.0h-3.8zM151.1 190.9h3.8v3.0h-3.8zM151.1 196.1h3.8v4.4h-3.8zM151.1 267.6h3.8v3.5h-3.8zM154.3 162.4h4.6v12.0h-4.6zM154.3 179.5h4.6v3.8h-4.6zM154.3 185.8h4.6v3.0h-4.6zM154.3 190.9h4.6v9.6h-4.6zM158.4 179.5h4.5v3.8h-4.5zM158.4 200.0h4.5v91.5h-4.5zM162.4 166.4h4.6v7.9h-4.6zM162.4 179.5h4.6v3.8h-4.6zM162.4 185.8h4.6v3.0h-4.6zM162.4 190.9h4.6v100.6h-4.6zM166.4 170.2h4.3v4.1h-4.3zM166.4 179.5h4.3v3.8h-4.3zM166.4 185.8h4.3v3.0h-4.3zM166.4 190.9h4.3v9.6h-4.3zM170.2 179.5h4.1v3.8h-4.1zM170.2 185.8h4.1v3.0h-4.1zM170.2 190.9h4.1v100.6h-4.1zM173.8 176.8h3.5v3.2h-3.5zM173.8 200.0h3.5v91.5h-3.5zM176.8 200.0h3.2v91.5h-3.2zM179.5 185.8h3.8v3.0h-3.8zM179.5 190.9h3.8v9.6h-3.8zM182.8 190.9h3.5v3.0h-3.5zM182.8 227.4h3.5v4.0h-3.5zM185.8 190.9h3.0v100.6h-3.0zM190.9 193.4h3.0v7.1h-3.0zM190.9 279.5h3.0v4.6h-3.0zM193.4 196.1h3.2v95.4h-3.2zM196.1 200.0h4.4v91.5h-4.4zM200.0 201.9h2.4v26.0h-2.4zM200.0 230.9h2.4v4.2h-2.4zM200.0 238.1h2.4v8.1h-2.4zM200.0 249.8h2.4v18.3h-2.4zM200.0 270.6h2.4v9.4h-2.4zM200.0 287.2h2.4v4.3h-2.4zM201.9 205.5h4.1v25.9h-4.1zM201.9 238.1h4.1v8.1h-4.1zM201.9 249.8h4.1v18.3h-4.1zM201.9 270.6h4.1v9.4h-4.1zM201.9 287.2h4.1v4.3h-4.1zM205.5 208.6h3.6v19.3h-3.6zM205.5 230.9h3.6v4.2h-3.6zM205.5 238.1h3.6v8.1h-3.6zM205.5 249.8h3.6v18.3h-3.6zM205.5 270.6h3.6v9.4h-3.6zM205.5 287.2h3.6v4.3h-3.6zM208.6 211.6h3.5v16.3h-3.5zM208.6 230.9h3.5v4.2h-3.5zM208.6 238.1h3.5v8.1h-3.5zM208.6 249.8h3.5v18.3h-3.5zM208.6 270.6h3.5v9.4h-3.5zM208.6 287.2h3.5v4.3h-3.5zM211.6 214.4h3.3v13.5h-3.3zM211.6 230.9h3.3v4.2h-3.3zM211.6 238.1h3.3v8.1h-3.3zM211.6 249.8h3.3v18.3h-3.3zM211.6 270.6h3.3v9.4h-3.3zM211.6 287.2h3.3v4.3h-3.3zM214.4 217.1h3.2v10.8h-3.2zM214.4 230.9h3.2v4.2h-3.2zM214.4 238.1h3.2v8.1h-3.2zM214.4 249.8h3.2v18.3h-3.2zM214.4 270.6h3.2v9.4h-3.2zM214.4 287.2h3.2v4.3h-3.2zM217.1 220.1h3.4v7.8h-3.4zM217.1 230.9h3.4v4.2h-3.4zM217.1 238.1h3.4v8.1h-3.4zM217.1 249.8h3.4v10.3h-3.4zM217.1 263.6h3.4v4.5h-3.4zM217.1 270.6h3.4v9.4h-3.4zM217.1 287.2h3.4v4.3h-3.4zM220.1 223.6h4.0v4.3h-4.0zM220.1 230.9h4.0v4.2h-4.0zM220.1 238.1h4.0v8.1h-4.0zM220.1 249.8h4.0v18.3h-4.0zM220.1 270.6h4.0v9.4h-4.0zM220.1 287.2h4.0v4.3h-4.0zM223.6 230.9h4.3v4.2h-4.3zM223.6 238.1h4.3v8.1h-4.3zM223.6 249.8h4.3v18.3h-4.3zM223.6 270.6h4.3v9.4h-4.3zM223.6 287.2h4.3v4.3h-4.3zM227.4 270.6h4.0v6.1h-4.0zM230.9 238.1h4.2v8.1h-4.2zM230.9 249.8h4.2v18.3h-4.2zM230.9 270.6h4.2v9.4h-4.2zM230.9 287.2h4.2v4.3h-4.2zM238.1 241.4h3.9v4.8h-3.9zM238.1 249.8h3.9v18.3h-3.9zM238.1 270.6h3.9v9.4h-3.9zM238.1 287.2h3.9v4.3h-3.9zM241.4 249.8h4.8v18.3h-4.8zM241.4 270.6h4.8v9.4h-4.8zM241.4 287.2h4.8v4.3h-4.8zM245.7 273.4h4.6v3.4h-4.6zM245.7 283.6h4.6v4.1h-4.6zM249.8 253.1h3.8v15.1h-3.8zM249.8 270.6h3.8v9.4h-3.8zM249.8 287.2h3.8v4.3h-3.8zM253.1 255.9h3.4v12.2h-3.4zM253.1 270.6h3.4v9.4h-3.4zM253.1 287.2h3.4v4.3h-3.4zM255.9 259.6h4.2v8.5h-4.2zM255.9 270.6h4.2v9.4h-4.2zM255.9 283.6h4.2v7.9h-4.2zM259.6 263.6h4.5v4.5h-4.5zM259.6 270.6h4.5v9.4h-4.5zM259.6 287.2h4.5v4.3h-4.5zM263.6 270.6h4.5v3.2h-4.5zM263.6 276.2h4.5v7.9h-4.5zM263.6 287.2h4.5v4.3h-4.5zM270.6 273.4h3.2v6.6h-3.2zM270.6 287.2h3.2v4.3h-3.2zM273.4 276.2h3.4v3.8h-3.4zM273.4 287.2h3.4v4.3h-3.4zM276.2 287.2h3.8v4.3h-3.8zM291.0 304.1h3.1v3.9h-3.1zM291.0 312.4h3.1v11.0h-3.1zM293.6 312.4h6.4v5.1h-6.4zM293.6 318.5h6.4v4.9h-6.4zM299.5 312.4h5.1v11.0h-5.1zM304.1 312.4h3.9v11.0h-3.9zM307.5 312.4h5.4v16.8h-5.4zM317.0 318.5h2.0v10.8h-2.0zM318.5 322.9h4.9v13.6h-4.9zM365.0 446.9h3.0v5.5h-3.0zM365.0 489.9h3.0v8.9h-3.0zM367.5 489.9h5.1v8.9h-5.1zM367.5 505.0h5.1v2.8h-5.1zM367.5 511.8h5.1v4.2h-5.1zM372.1 381.9h5.2v4.8h-5.2zM372.1 389.4h5.2v8.7h-5.2zM372.1 400.8h5.2v8.0h-5.2zM372.1 412.2h5.2v4.8h-5.2zM372.1 420.9h5.2v3.9h-5.2zM372.1 451.9h5.2v4.9h-5.2zM372.1 460.1h5.2v20.4h-5.2zM372.1 505.0h5.2v2.8h-5.2zM372.1 511.8h5.2v4.2h-5.2zM376.9 432.0h5.5v3.8h-5.5zM376.9 442.0h5.5v5.4h-5.5zM376.9 451.9h5.5v4.9h-5.5zM376.9 460.1h5.5v8.4h-5.5zM376.9 472.6h5.5v7.9h-5.5zM376.9 498.2h5.5v9.6h-5.5zM376.9 511.8h5.5v4.2h-5.5zM381.9 389.4h4.8v8.7h-4.8zM381.9 400.8h4.8v8.0h-4.8zM381.9 412.2h4.8v4.8h-4.8zM381.9 420.9h4.8v3.9h-4.8zM381.9 489.9h4.8v8.9h-4.8zM381.9 505.0h4.8v2.8h-4.8zM381.9 511.8h4.8v4.2h-4.8zM381.9 524.2h4.8v4.8h-4.8zM386.1 412.2h3.8v4.8h-3.8zM386.1 505.0h3.8v2.8h-3.8zM386.1 511.8h3.8v4.2h-3.8zM389.4 393.5h4.6v4.6h-4.6zM389.4 400.8h4.6v8.0h-4.6zM389.4 412.2h4.6v4.8h-4.6zM389.4 420.9h4.6v3.9h-4.6zM389.4 489.9h4.6v8.9h-4.6zM393.5 400.8h4.6v3.8h-4.6zM393.5 412.2h4.6v4.8h-4.6zM393.5 420.9h4.6v3.9h-4.6zM393.5 451.9h4.6v4.9h-4.6zM393.5 460.1h4.6v8.4h-4.6zM393.5 472.6h4.6v7.9h-4.6zM397.6 451.9h3.6v4.9h-3.6zM397.6 460.1h3.6v8.4h-3.6zM397.6 472.6h3.6v9.7h-3.6zM397.6 505.0h3.6v2.8h-3.6zM397.6 511.8h3.6v4.2h-3.6zM397.6 524.2h3.6v4.8h-3.6zM400.8 404.0h3.8v4.8h-3.8zM400.8 412.2h3.8v4.8h-3.8zM400.8 420.9h3.8v3.9h-3.8zM400.8 451.9h3.8v4.9h-3.8zM400.8 460.1h3.8v8.4h-3.8zM400.8 472.6h3.8v7.9h-3.8zM400.8 505.0h3.8v2.8h-3.8zM400.8 511.8h3.8v4.2h-3.8zM404.0 412.2h4.8v4.8h-4.8zM404.0 420.9h4.8v9.6h-4.8zM404.0 505.0h4.8v2.8h-4.8zM404.0 511.8h4.8v4.2h-4.8zM408.3 456.2h4.5v4.4h-4.5zM408.3 489.9h4.5v8.9h-4.5zM412.2 420.9h4.8v3.9h-4.8zM412.2 489.9h4.8v8.9h-4.8zM416.6 438.2h4.9v4.2h-4.9zM420.9 489.9h3.9v8.9h-3.9zM424.4 451.9h6.1v4.9h-6.1zM424.4 460.1h6.1v8.4h-6.1zM424.4 472.6h6.1v7.9h-6.1zM430.0 442.0h2.5v14.8h-2.5zM430.0 463.9h2.5v4.6h-2.5zM430.0 511.8h2.5v4.2h-2.5zM430.0 519.6h2.5v5.1h-2.5zM430.0 528.5h2.5v5.1h-2.5zM432.0 480.0h3.8v2.3h-3.8zM432.0 489.9h3.8v4.6h-3.8zM432.0 498.2h3.8v7.3h-3.8zM432.0 511.8h3.8v4.2h-3.8zM432.0 519.6h3.8v5.1h-3.8zM432.0 528.5h3.8v5.1h-3.8zM435.3 480.0h3.4v2.3h-3.4zM435.3 489.9h3.4v4.6h-3.4zM435.3 498.2h3.4v7.3h-3.4zM435.3 511.8h3.4v4.2h-3.4zM435.3 519.6h3.4v5.1h-3.4zM435.3 528.5h3.4v5.1h-3.4zM438.2 472.6h4.2v9.7h-4.2zM438.2 489.9h4.2v4.6h-4.2zM438.2 498.2h4.2v7.3h-4.2zM438.2 511.8h4.2v4.2h-4.2zM438.2 519.6h4.2v5.1h-4.2zM438.2 528.5h4.2v5.1h-4.2zM438.2 536.8h4.2v6.7h-4.2zM442.0 446.9h5.4v9.9h-5.4zM442.0 463.9h5.4v4.6h-5.4zM446.9 451.9h5.5v4.9h-5.5zM446.9 463.9h5.5v4.6h-5.5zM451.9 463.9h4.9v4.6h-4.9zM451.9 480.0h4.9v2.3h-4.9zM451.9 489.9h4.9v4.6h-4.9zM451.9 498.2h4.9v7.3h-4.9zM456.2 480.0h4.4v2.3h-4.4zM456.2 489.9h4.4v4.6h-4.4zM456.2 498.2h4.4v7.3h-4.4zM460.1 468.0h4.3v5.1h-4.3zM463.9 480.0h4.6v2.3h-4.6zM463.9 489.9h4.6v4.6h-4.6zM463.9 498.2h4.6v7.3h-4.6zM472.6 511.8h7.9v4.2h-7.9zM472.6 519.6h7.9v5.1h-7.9zM472.6 528.5h7.9v5.1h-7.9zM481.8 505.0h4.1v24.0h-4.1zM481.8 536.8h4.1v6.7h-4.1zM489.9 494.0h4.6v35.0h-4.6zM489.9 536.8h4.6v6.7h-4.6zM494.0 498.2h4.8v30.8h-4.8zM507.3 511.8h5.0v4.2h-5.0zM519.6 528.5h5.1v5.1h-5.1zM524.2 533.0h4.8v10.5h-4.8zM533.0 536.8h4.2v6.7h-4.2zM560.0 563.0h3.5v65.5h-3.5zM560.0 642.0h3.5v12.5h-3.5zM563.0 568.9h6.4v59.6h-6.4zM563.0 642.0h6.4v12.5h-6.4zM568.9 574.5h6.1v54.0h-6.1zM568.9 642.0h6.1v12.5h-6.1zM574.5 579.5h5.6v49.0h-5.6zM574.5 642.0h5.6v12.5h-5.6zM579.5 584.0h5.0v44.5h-5.0zM579.5 642.0h5.0v12.5h-5.0zM584.0 588.5h5.0v40.0h-5.0zM584.0 642.0h5.0v12.5h-5.0zM588.5 594.0h6.0v34.5h-6.0zM588.5 642.0h6.0v12.5h-6.0zM594.0 598.4h4.9v30.1h-4.9zM594.0 642.0h4.9v12.5h-4.9zM598.4 603.0h5.1v25.5h-5.1zM598.4 642.0h5.1v12.5h-5.1zM603.0 609.3h6.8v19.2h-6.8zM603.0 642.0h6.8v12.5h-6.8zM609.3 614.2h5.4v14.3h-5.4zM609.3 642.0h5.4v12.5h-5.4zM614.2 618.0h4.2v10.5h-4.2zM614.2 642.0h4.2v12.5h-4.2zM618.0 622.5h5.0v6.0h-5.0zM618.0 642.0h5.0v12.5h-5.0zM622.5 642.0h6.0v12.5h-6.0zM628.0 642.0h2.2v19.0h-2.2zM628.0 664.2h2.2v8.3h-2.2zM629.7 654.0h3.8v18.5h-3.8zM633.0 642.0h4.3v30.5h-4.3zM636.9 642.0h5.6v30.5h-5.6zM642.0 645.0h3.5v19.8h-3.5zM645.0 654.0h9.5v10.7h-9.5zM654.0 656.0h2.5v16.5h-2.5zM656.0 660.5h4.9v12.0h-4.9zM660.5 664.2h4.2v8.3h-4.2z"/><path fill="#aab4f2" d="M112.0 193.0h80.5v8.5h-80.5zM658.6 672.0h1.5v130.5h-1.5zM660.4 672.0h1.5v130.5h-1.5zM175.0 342.5h140.5v2.0h-140.5z"/><path fill="#e0304a" d="M175.0 344.0h140.5v3.0h-140.5z"/><path fill="#ee0a0a" d="M175.0 340.0h140.5v3.0h-140.5z"/></g><g transform="matrix(0.5,-0.46,0.5,0.46,0,452.2)"><path fill="#f3cdd8" d="M686.6 700.2h5.8v5.0h-5.8zM686.6 720.2h5.8v9.0h-5.8zM686.6 738.8h5.8v3.8h-5.8zM700.2 725.0h5.0v4.1h-5.0zM700.2 738.8h5.0v3.8h-5.0z"/><path fill="#aab4f2" d="M672.0 686.6h3.5v5.8h-3.5zM672.0 779.1h3.5v3.6h-3.5zM672.0 786.3h3.5v5.8h-3.5zM675.0 709.8h5.1v5.5h-5.1zM675.0 779.1h5.1v3.6h-5.1zM675.0 786.3h5.1v5.8h-5.1zM679.6 686.6h5.2v5.8h-5.2zM679.6 709.8h5.2v5.5h-5.2zM679.6 779.1h5.2v3.6h-5.2zM679.6 786.3h5.2v5.8h-5.2zM684.4 686.6h2.8v115.6h-2.8zM686.6 691.9h5.8v8.9h-5.8zM686.6 704.8h5.8v15.9h-5.8zM686.6 728.7h5.8v10.6h-5.8zM691.9 696.6h5.2v105.6h-5.2zM696.6 700.2h4.1v102.0h-4.1zM700.2 704.8h5.0v20.8h-5.0zM700.2 728.7h5.0v10.6h-5.0zM700.2 779.1h5.0v3.6h-5.0zM700.2 786.3h5.0v5.8h-5.0zM704.8 709.8h5.5v92.5h-5.5zM709.8 714.8h5.5v87.5h-5.5zM714.8 720.2h6.0v82.1h-6.0zM720.2 725.0h5.3v77.2h-5.3zM725.0 728.7h4.1v10.6h-4.1zM728.7 731.5h3.4v70.8h-3.4zM731.5 735.0h3.9v7.5h-3.9zM731.5 782.3h3.9v4.5h-3.9zM735.0 738.8h4.3v63.5h-4.3z"/><path fill="#e0304a" d="M725.0 742.0h4.1v60.3h-4.1zM742.0 764.5h3.4v11.6h-3.4zM744.9 770.2h6.4v5.9h-6.4zM750.8 770.2h5.9v5.9h-5.9zM756.1 770.2h4.6v5.9h-4.6zM770.2 775.6h5.9v26.7h-5.9z"/><path fill="#ee0a0a" d="M686.6 742.0h5.8v60.3h-5.8zM700.2 742.0h5.0v37.6h-5.0zM700.2 782.3h5.0v4.5h-5.0zM700.2 791.6h5.0v10.7h-5.0zM725.0 738.8h4.1v3.8h-4.1zM731.5 742.0h3.9v40.8h-3.9zM731.5 786.3h3.9v16.0h-3.9zM738.8 742.0h3.8v60.3h-3.8zM742.0 744.9h3.4v20.1h-3.4zM742.0 775.6h3.4v26.7h-3.4zM744.9 750.8h6.4v19.9h-6.4zM744.9 775.6h6.4v26.7h-6.4zM750.8 756.1h5.9v14.6h-5.9zM750.8 775.6h5.9v26.7h-5.9zM756.1 760.2h4.6v10.5h-4.6zM756.1 775.6h4.6v26.7h-4.6zM760.2 764.5h4.8v37.8h-4.8zM764.5 770.2h6.2v32.1h-6.2zM775.6 779.1h4.1v23.1h-4.1zM779.1 782.3h3.6v20.0h-3.6zM782.3 786.3h4.5v16.0h-4.5zM786.3 791.6h5.8v10.7h-5.8zM791.6 796.2h5.1v6.0h-5.1zM801.8 803.8h2.5v57.4h-2.5zM801.8 864.8h2.5v20.5h-2.5zM801.8 888.6h2.5v13.1h-2.5zM803.8 892.5h4.7v9.3h-4.7zM808.0 884.7h5.5v4.4h-5.5zM808.0 892.5h5.5v9.3h-5.5zM813.0 826.0h4.9v5.4h-4.9zM813.0 844.8h4.9v4.8h-4.9zM813.0 864.8h4.9v10.1h-4.9zM813.0 878.0h4.9v7.2h-4.9zM813.0 892.5h4.9v9.3h-4.9zM817.4 892.5h4.2v9.3h-4.2zM821.1 892.5h5.4v4.2h-5.4zM826.0 844.8h5.4v4.8h-5.4zM826.0 869.3h5.4v5.5h-5.4zM826.0 878.0h5.4v7.2h-5.4zM826.0 892.5h5.4v9.3h-5.4zM830.9 878.0h4.8v3.8h-4.8zM830.9 892.5h4.8v4.2h-4.8zM835.1 892.5h5.5v9.3h-5.5zM840.1 892.5h5.2v9.3h-5.2zM844.8 892.5h4.8v9.3h-4.8zM849.1 892.5h6.4v4.2h-6.4zM855.0 892.5h6.2v9.3h-6.2zM864.8 892.5h5.1v9.3h-5.1zM869.3 881.2h5.5v4.0h-5.5zM869.3 892.5h5.5v9.3h-5.5zM874.3 892.5h4.1v9.3h-4.1zM878.0 881.2h3.8v4.0h-3.8zM878.0 896.2h3.8v5.6h-3.8zM881.2 892.5h4.0v9.3h-4.0zM888.6 892.5h4.3v9.3h-4.3z"/></g><path d="M76.6,452.3 L84.6,452.3 L80.6,457 Z" fill="#ee0a0a"/><path d="M84.6,456.5 L86.6,454.5 L88.6,456.5 L86.6,458.5 Z" fill="#f3cdd8"/>
<path d="M112.5,453.5 L291.0,453.5 L202.3,541.5 Z" fill="none" stroke="#000" stroke-width="3" stroke-linejoin="miter"/>
<path d="M364.8,453.5 L542.5,453.5 L454.5,541.5 Z" fill="none" stroke="#000" stroke-width="3" stroke-linejoin="miter"/>
<path d="M560.5,453.5 L654.5,453.5 L608.0,498.5 Z" fill="none" stroke="#000" stroke-width="3" stroke-linejoin="miter"/>
<path d="M684.4,453.5 L801.8,453.5 L743.1,505.6 Z" fill="none" stroke="#000" stroke-width="3"/>
</svg></body></html>
